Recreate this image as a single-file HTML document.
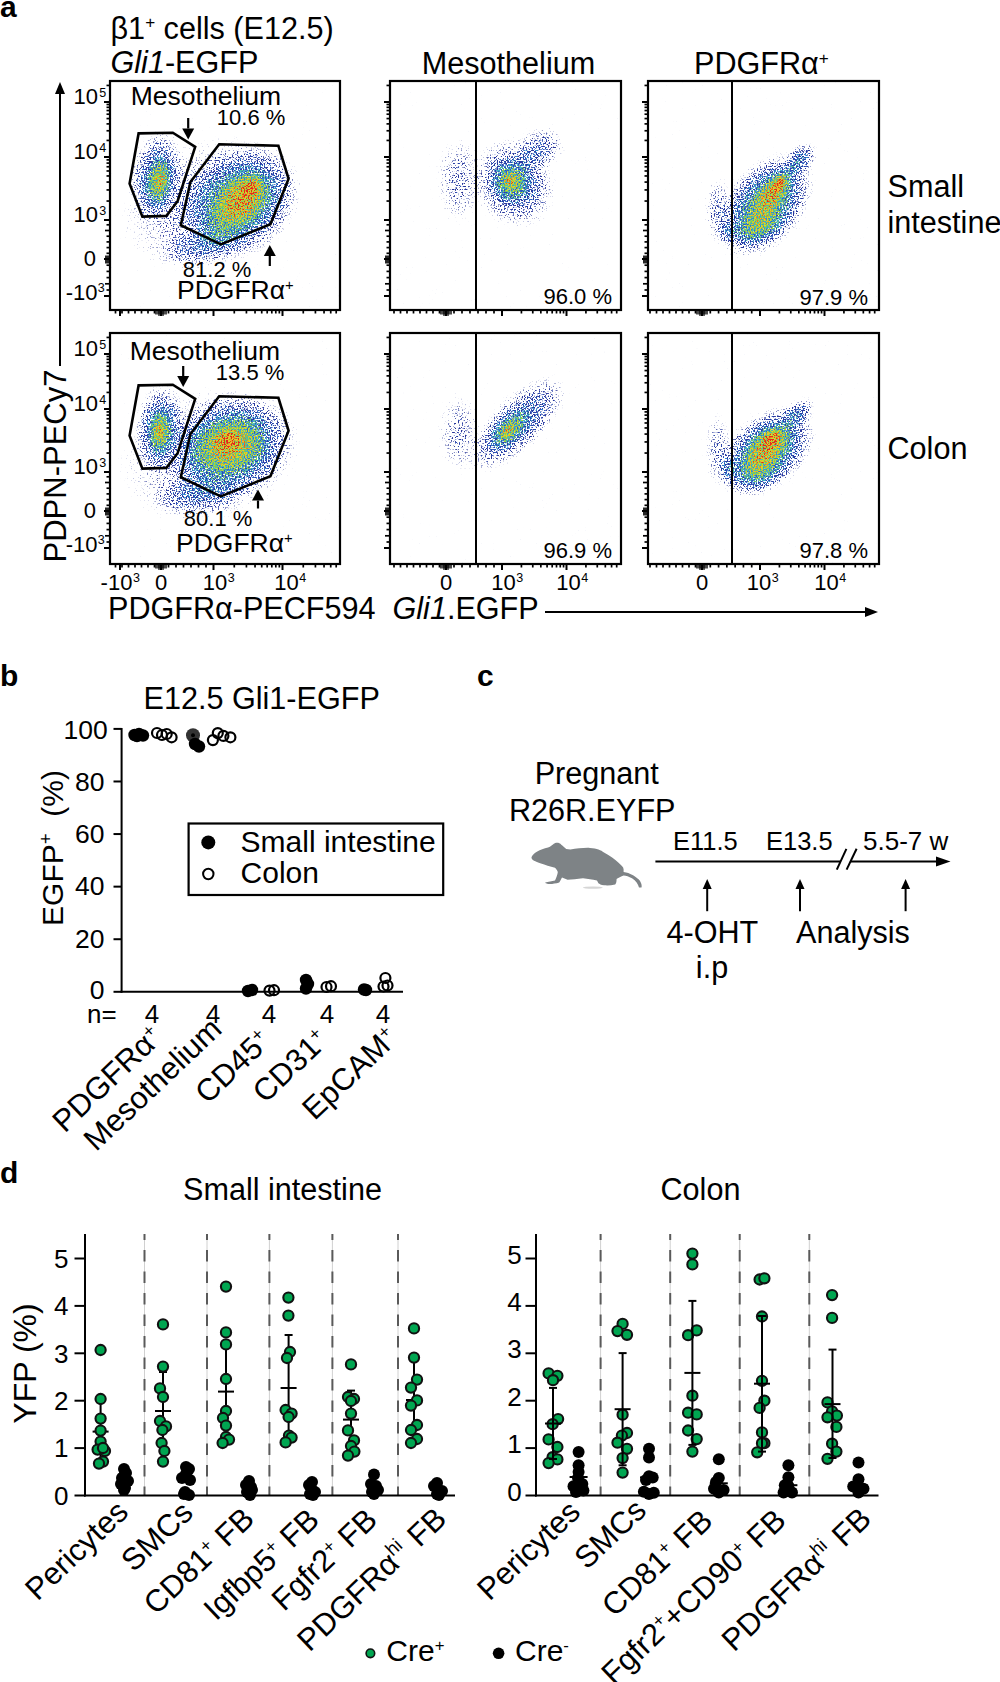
<!DOCTYPE html>
<html><head><meta charset="utf-8"><style>
html,body{margin:0;padding:0;background:#fff;}
svg{display:block;}
text{font-family:"Liberation Sans", sans-serif;}
</style></head><body>
<svg width="1000" height="1682" viewBox="0 0 1000 1682" font-family='"Liberation Sans", sans-serif'>
<rect width="1000" height="1682" fill="#fff"/>
<defs>
<radialGradient id="gg"><stop offset="0" stop-color="#000" stop-opacity="1"/><stop offset="0.25" stop-color="#000" stop-opacity="0.9"/><stop offset="0.5" stop-color="#000" stop-opacity="0.62"/><stop offset="0.7" stop-color="#000" stop-opacity="0.35"/><stop offset="0.85" stop-color="#000" stop-opacity="0.14"/><stop offset="1" stop-color="#000" stop-opacity="0"/></radialGradient>
<filter id="dn" filterUnits="userSpaceOnUse" x="0" y="0" width="1000" height="700" color-interpolation-filters="sRGB">
<feGaussianBlur in="SourceAlpha" stdDeviation="1.1" result="d"/>
<feTurbulence type="fractalNoise" baseFrequency="0.83" numOctaves="1" seed="7" result="t1"/>
<feComponentTransfer in="t1" result="n1"><feFuncA type="table" tableValues="0.000 0.000 0.000 0.001 0.003 0.010 0.031 0.080 0.175 0.320 0.500 0.680 0.825 0.920 0.969 0.990 0.997 0.999 1.000 1.000 1.000"/></feComponentTransfer>
<feTurbulence type="fractalNoise" baseFrequency="0.83" numOctaves="1" seed="19" result="t2"/>
<feComponentTransfer in="t2" result="n2"><feFuncA type="table" tableValues="0.000 0.000 0.000 0.001 0.003 0.010 0.031 0.080 0.175 0.320 0.500 0.680 0.825 0.920 0.969 0.990 0.997 0.999 1.000 1.000 1.000"/></feComponentTransfer>
<feComposite in="d" in2="n1" operator="arithmetic" k1="0" k2="1" k3="0.45" k4="-0.225" result="dj"/>
<feColorMatrix in="dj" type="matrix" values="0 0 0 1 0  0 0 0 1 0  0 0 0 1 0  0 0 0 0 1" result="g"/>
<feComponentTransfer in="g" result="col"><feFuncR type="table" tableValues="0.157 0.158 0.159 0.160 0.161 0.162 0.163 0.164 0.171 0.179 0.188 0.200 0.213 0.234 0.263 0.336 0.438 0.557 0.684 0.793 0.885 0.931 0.948 0.923 0.894"/><feFuncG type="table" tableValues="0.204 0.208 0.213 0.217 0.221 0.226 0.230 0.234 0.273 0.321 0.369 0.455 0.545 0.631 0.712 0.757 0.778 0.803 0.830 0.843 0.843 0.752 0.600 0.382 0.157"/><feFuncB type="table" tableValues="0.588 0.596 0.605 0.613 0.621 0.629 0.637 0.645 0.681 0.723 0.765 0.793 0.819 0.808 0.763 0.623 0.418 0.297 0.216 0.171 0.161 0.150 0.138 0.124 0.110"/></feComponentTransfer>
<feComposite in="d" in2="n2" operator="arithmetic" k1="0" k2="7" k3="-4" k4="0.05" result="m"/>
<feComposite in="col" in2="m" operator="in"/>
</filter>
</defs>
<clipPath id="c1"><rect x="111" y="82" width="228" height="227"/></clipPath>
<g clip-path="url(#c1)"><g transform="scale(1.2)"><g filter="url(#dn)">
<ellipse cx="175.00" cy="170.83" rx="79.17" ry="56.67" transform="rotate(-20 175.00 170.83)" fill="url(#gg)" opacity="0.25"/>
<ellipse cx="130.00" cy="146.67" rx="22.50" ry="40.00" transform="rotate(10 130.00 146.67)" fill="url(#gg)" opacity="0.52"/>
<ellipse cx="133.33" cy="151.67" rx="11.67" ry="25.00" transform="rotate(8 133.33 151.67)" fill="url(#gg)" opacity="0.5"/>
<ellipse cx="134.17" cy="152.50" rx="4.17" ry="8.33" transform="rotate(0 134.17 152.50)" fill="url(#gg)" opacity="0.25"/>
<ellipse cx="170.83" cy="205.00" rx="41.67" ry="16.67" transform="rotate(-10 170.83 205.00)" fill="url(#gg)" opacity="0.28"/>
<ellipse cx="201.67" cy="166.67" rx="53.33" ry="45.00" transform="rotate(-40 201.67 166.67)" fill="url(#gg)" opacity="0.6"/>
<ellipse cx="196.67" cy="173.33" rx="43.33" ry="21.67" transform="rotate(-45 196.67 173.33)" fill="url(#gg)" opacity="0.38"/>
<ellipse cx="203.33" cy="163.33" rx="28.33" ry="21.67" transform="rotate(-45 203.33 163.33)" fill="url(#gg)" opacity="0.36"/>
<ellipse cx="209.17" cy="156.67" rx="11.67" ry="9.17" transform="rotate(-45 209.17 156.67)" fill="url(#gg)" opacity="0.6"/>
<ellipse cx="209.17" cy="156.67" rx="5.00" ry="4.17" transform="rotate(-45 209.17 156.67)" fill="url(#gg)" opacity="0.5"/>
</g></g></g>
<clipPath id="c2"><rect x="111" y="334" width="228" height="229"/></clipPath>
<g clip-path="url(#c2)"><g transform="scale(1.2)"><g filter="url(#dn)">
<ellipse cx="175.00" cy="379.17" rx="79.17" ry="56.67" transform="rotate(-15 175.00 379.17)" fill="url(#gg)" opacity="0.25"/>
<ellipse cx="133.33" cy="356.67" rx="21.67" ry="38.33" transform="rotate(5 133.33 356.67)" fill="url(#gg)" opacity="0.52"/>
<ellipse cx="133.33" cy="360.00" rx="10.83" ry="21.67" transform="rotate(0 133.33 360.00)" fill="url(#gg)" opacity="0.5"/>
<ellipse cx="133.33" cy="360.83" rx="4.17" ry="7.50" transform="rotate(0 133.33 360.83)" fill="url(#gg)" opacity="0.25"/>
<ellipse cx="166.67" cy="412.50" rx="43.33" ry="18.33" transform="rotate(-5 166.67 412.50)" fill="url(#gg)" opacity="0.3"/>
<ellipse cx="193.33" cy="371.67" rx="55.00" ry="45.00" transform="rotate(-20 193.33 371.67)" fill="url(#gg)" opacity="0.6"/>
<ellipse cx="190.83" cy="370.83" rx="40.00" ry="30.00" transform="rotate(-20 190.83 370.83)" fill="url(#gg)" opacity="0.38"/>
<ellipse cx="190.00" cy="367.50" rx="15.00" ry="11.67" transform="rotate(-20 190.00 367.50)" fill="url(#gg)" opacity="0.58"/>
<ellipse cx="190.00" cy="366.67" rx="5.83" ry="5.00" transform="rotate(-20 190.00 366.67)" fill="url(#gg)" opacity="0.5"/>
</g></g></g>
<clipPath id="c3"><rect x="391" y="82" width="229" height="227"/></clipPath>
<g clip-path="url(#c3)"><g transform="scale(1.2)"><g filter="url(#dn)">
<ellipse cx="382.50" cy="150.00" rx="20.00" ry="38.33" transform="rotate(0 382.50 150.00)" fill="url(#gg)" opacity="0.2"/>
<ellipse cx="428.33" cy="152.50" rx="35.00" ry="40.00" transform="rotate(-30 428.33 152.50)" fill="url(#gg)" opacity="0.45"/>
<ellipse cx="448.33" cy="125.00" rx="25.00" ry="18.33" transform="rotate(-30 448.33 125.00)" fill="url(#gg)" opacity="0.3"/>
<ellipse cx="425.83" cy="150.83" rx="20.00" ry="21.67" transform="rotate(0 425.83 150.83)" fill="url(#gg)" opacity="0.45"/>
<ellipse cx="425.00" cy="150.83" rx="7.50" ry="8.33" transform="rotate(0 425.00 150.83)" fill="url(#gg)" opacity="0.4"/>
</g></g></g>
<clipPath id="c4"><rect x="391" y="334" width="229" height="229"/></clipPath>
<g clip-path="url(#c4)"><g transform="scale(1.2)"><g filter="url(#dn)">
<ellipse cx="382.50" cy="360.83" rx="18.33" ry="35.00" transform="rotate(0 382.50 360.83)" fill="url(#gg)" opacity="0.19"/>
<ellipse cx="430.83" cy="353.33" rx="55.00" ry="23.33" transform="rotate(-44 430.83 353.33)" fill="url(#gg)" opacity="0.45"/>
<ellipse cx="423.33" cy="359.17" rx="25.00" ry="14.17" transform="rotate(-44 423.33 359.17)" fill="url(#gg)" opacity="0.45"/>
<ellipse cx="423.33" cy="359.17" rx="9.17" ry="5.83" transform="rotate(-44 423.33 359.17)" fill="url(#gg)" opacity="0.4"/>
</g></g></g>
<clipPath id="c5"><rect x="649" y="82" width="229" height="227"/></clipPath>
<g clip-path="url(#c5)"><g transform="scale(1.2)"><g filter="url(#dn)">
<ellipse cx="598.33" cy="175.00" rx="11.67" ry="30.00" transform="rotate(0 598.33 175.00)" fill="url(#gg)" opacity="0.22"/>
<ellipse cx="606.67" cy="193.33" rx="8.33" ry="11.67" transform="rotate(0 606.67 193.33)" fill="url(#gg)" opacity="0.28"/>
<ellipse cx="637.50" cy="170.83" rx="51.67" ry="33.33" transform="rotate(-50 637.50 170.83)" fill="url(#gg)" opacity="0.72"/>
<ellipse cx="631.67" cy="190.00" rx="26.67" ry="16.67" transform="rotate(-20 631.67 190.00)" fill="url(#gg)" opacity="0.4"/>
<ellipse cx="666.67" cy="133.33" rx="18.33" ry="11.67" transform="rotate(-50 666.67 133.33)" fill="url(#gg)" opacity="0.42"/>
<ellipse cx="645.83" cy="158.33" rx="26.67" ry="12.50" transform="rotate(-55 645.83 158.33)" fill="url(#gg)" opacity="0.55"/>
<ellipse cx="649.17" cy="153.33" rx="10.83" ry="5.83" transform="rotate(-58 649.17 153.33)" fill="url(#gg)" opacity="0.75"/>
<ellipse cx="649.17" cy="153.33" rx="4.17" ry="2.50" transform="rotate(-58 649.17 153.33)" fill="url(#gg)" opacity="0.5"/>
</g></g></g>
<clipPath id="c6"><rect x="649" y="334" width="229" height="229"/></clipPath>
<g clip-path="url(#c6)"><g transform="scale(1.2)"><g filter="url(#dn)">
<ellipse cx="598.33" cy="375.00" rx="11.67" ry="31.67" transform="rotate(0 598.33 375.00)" fill="url(#gg)" opacity="0.2"/>
<ellipse cx="606.67" cy="391.67" rx="8.33" ry="15.00" transform="rotate(0 606.67 391.67)" fill="url(#gg)" opacity="0.25"/>
<ellipse cx="638.33" cy="376.67" rx="48.33" ry="31.67" transform="rotate(-40 638.33 376.67)" fill="url(#gg)" opacity="0.72"/>
<ellipse cx="630.83" cy="391.67" rx="25.00" ry="18.33" transform="rotate(-20 630.83 391.67)" fill="url(#gg)" opacity="0.38"/>
<ellipse cx="664.17" cy="345.00" rx="18.33" ry="10.83" transform="rotate(-40 664.17 345.00)" fill="url(#gg)" opacity="0.4"/>
<ellipse cx="641.67" cy="369.17" rx="26.67" ry="15.83" transform="rotate(-38 641.67 369.17)" fill="url(#gg)" opacity="0.5"/>
<ellipse cx="643.33" cy="365.00" rx="10.83" ry="7.50" transform="rotate(-35 643.33 365.00)" fill="url(#gg)" opacity="0.7"/>
<ellipse cx="643.33" cy="365.00" rx="4.17" ry="3.33" transform="rotate(-35 643.33 365.00)" fill="url(#gg)" opacity="0.45"/>
</g></g></g>
<text x="0.0" y="16.5" font-size="30" font-weight="bold" fill="#000">a</text>
<text x="110.5" y="38.8" font-size="30.6" fill="#000">β1<tspan font-size="17.1" dy="-10.4">+</tspan><tspan dy="10.4"> </tspan>cells (E12.5)</text>
<text x="110.5" y="72.8" font-size="30.6"><tspan font-style="italic">Gli1</tspan>-EGFP</text>
<line x1="60.00" y1="366.00" x2="60.00" y2="94.00" stroke="#000" stroke-width="2"/>
<polygon points="55.0,94.0 65.0,94.0 60.0,82.0" fill="#000"/>
<text x="0.0" y="0.0" font-size="31" text-anchor="middle" fill="#000" transform="translate(66,466) rotate(-90)">PDPN-PECy7</text>
<rect x="110" y="81" width="230" height="229" fill="none" stroke="#000" stroke-width="2.2"/>
<line x1="104.00" y1="102.00" x2="110.00" y2="102.00" stroke="#000" stroke-width="2"/>
<line x1="104.00" y1="157.00" x2="110.00" y2="157.00" stroke="#000" stroke-width="2"/>
<line x1="104.00" y1="220.00" x2="110.00" y2="220.00" stroke="#000" stroke-width="2"/>
<line x1="104.00" y1="259.00" x2="110.00" y2="259.00" stroke="#000" stroke-width="2"/>
<line x1="104.00" y1="296.00" x2="110.00" y2="296.00" stroke="#000" stroke-width="2"/>
<line x1="106.50" y1="140.44" x2="110.00" y2="140.44" stroke="#000" stroke-width="1.7"/>
<line x1="106.50" y1="201.04" x2="110.00" y2="201.04" stroke="#000" stroke-width="1.7"/>
<line x1="106.50" y1="130.76" x2="110.00" y2="130.76" stroke="#000" stroke-width="1.7"/>
<line x1="106.50" y1="189.94" x2="110.00" y2="189.94" stroke="#000" stroke-width="1.7"/>
<line x1="106.50" y1="123.89" x2="110.00" y2="123.89" stroke="#000" stroke-width="1.7"/>
<line x1="106.50" y1="182.07" x2="110.00" y2="182.07" stroke="#000" stroke-width="1.7"/>
<line x1="106.50" y1="118.56" x2="110.00" y2="118.56" stroke="#000" stroke-width="1.7"/>
<line x1="106.50" y1="175.96" x2="110.00" y2="175.96" stroke="#000" stroke-width="1.7"/>
<line x1="106.50" y1="114.20" x2="110.00" y2="114.20" stroke="#000" stroke-width="1.7"/>
<line x1="106.50" y1="170.98" x2="110.00" y2="170.98" stroke="#000" stroke-width="1.7"/>
<line x1="106.50" y1="110.52" x2="110.00" y2="110.52" stroke="#000" stroke-width="1.7"/>
<line x1="106.50" y1="166.76" x2="110.00" y2="166.76" stroke="#000" stroke-width="1.7"/>
<line x1="106.50" y1="107.33" x2="110.00" y2="107.33" stroke="#000" stroke-width="1.7"/>
<line x1="106.50" y1="163.11" x2="110.00" y2="163.11" stroke="#000" stroke-width="1.7"/>
<line x1="106.50" y1="104.52" x2="110.00" y2="104.52" stroke="#000" stroke-width="1.7"/>
<line x1="106.50" y1="159.88" x2="110.00" y2="159.88" stroke="#000" stroke-width="1.7"/>
<line x1="106.50" y1="85.44" x2="110.00" y2="85.44" stroke="#000" stroke-width="1.7"/>
<line x1="106.50" y1="253.30" x2="110.00" y2="253.30" stroke="#000" stroke-width="1.7"/>
<line x1="106.50" y1="247.60" x2="110.00" y2="247.60" stroke="#000" stroke-width="1.7"/>
<line x1="106.50" y1="241.90" x2="110.00" y2="241.90" stroke="#000" stroke-width="1.7"/>
<line x1="106.50" y1="236.20" x2="110.00" y2="236.20" stroke="#000" stroke-width="1.7"/>
<line x1="105.00" y1="230.50" x2="110.00" y2="230.50" stroke="#000" stroke-width="1.7"/>
<line x1="106.50" y1="224.80" x2="110.00" y2="224.80" stroke="#000" stroke-width="1.7"/>
<line x1="106.50" y1="265.20" x2="110.00" y2="265.20" stroke="#000" stroke-width="1.7"/>
<line x1="106.50" y1="271.40" x2="110.00" y2="271.40" stroke="#000" stroke-width="1.7"/>
<line x1="106.50" y1="277.60" x2="110.00" y2="277.60" stroke="#000" stroke-width="1.7"/>
<line x1="105.00" y1="283.80" x2="110.00" y2="283.80" stroke="#000" stroke-width="1.7"/>
<line x1="106.50" y1="290.00" x2="110.00" y2="290.00" stroke="#000" stroke-width="1.7"/>
<rect x="105" y="255.5" width="5" height="8" fill="#000" opacity=".85"/>
<line x1="161.00" y1="310.00" x2="161.00" y2="316.00" stroke="#000" stroke-width="2"/>
<line x1="213.50" y1="310.00" x2="213.50" y2="316.00" stroke="#000" stroke-width="2"/>
<line x1="282.50" y1="310.00" x2="282.50" y2="316.00" stroke="#000" stroke-width="2"/>
<line x1="120.00" y1="310.00" x2="120.00" y2="316.00" stroke="#000" stroke-width="2"/>
<line x1="234.27" y1="310.00" x2="234.27" y2="313.50" stroke="#000" stroke-width="1.7"/>
<line x1="303.27" y1="310.00" x2="303.27" y2="313.50" stroke="#000" stroke-width="1.7"/>
<line x1="246.42" y1="310.00" x2="246.42" y2="313.50" stroke="#000" stroke-width="1.7"/>
<line x1="315.42" y1="310.00" x2="315.42" y2="313.50" stroke="#000" stroke-width="1.7"/>
<line x1="255.04" y1="310.00" x2="255.04" y2="313.50" stroke="#000" stroke-width="1.7"/>
<line x1="324.04" y1="310.00" x2="324.04" y2="313.50" stroke="#000" stroke-width="1.7"/>
<line x1="261.73" y1="310.00" x2="261.73" y2="313.50" stroke="#000" stroke-width="1.7"/>
<line x1="330.73" y1="310.00" x2="330.73" y2="313.50" stroke="#000" stroke-width="1.7"/>
<line x1="267.19" y1="310.00" x2="267.19" y2="313.50" stroke="#000" stroke-width="1.7"/>
<line x1="336.19" y1="310.00" x2="336.19" y2="313.50" stroke="#000" stroke-width="1.7"/>
<line x1="271.81" y1="310.00" x2="271.81" y2="313.50" stroke="#000" stroke-width="1.7"/>
<line x1="275.81" y1="310.00" x2="275.81" y2="313.50" stroke="#000" stroke-width="1.7"/>
<line x1="279.34" y1="310.00" x2="279.34" y2="313.50" stroke="#000" stroke-width="1.7"/>
<line x1="168.50" y1="310.00" x2="168.50" y2="313.50" stroke="#000" stroke-width="1.7"/>
<line x1="176.00" y1="310.00" x2="176.00" y2="313.50" stroke="#000" stroke-width="1.7"/>
<line x1="183.50" y1="310.00" x2="183.50" y2="313.50" stroke="#000" stroke-width="1.7"/>
<line x1="191.00" y1="310.00" x2="191.00" y2="313.50" stroke="#000" stroke-width="1.7"/>
<line x1="198.50" y1="310.00" x2="198.50" y2="313.50" stroke="#000" stroke-width="1.7"/>
<line x1="206.00" y1="310.00" x2="206.00" y2="313.50" stroke="#000" stroke-width="1.7"/>
<line x1="154.50" y1="310.00" x2="154.50" y2="313.50" stroke="#000" stroke-width="1.7"/>
<line x1="148.00" y1="310.00" x2="148.00" y2="313.50" stroke="#000" stroke-width="1.7"/>
<line x1="141.50" y1="310.00" x2="141.50" y2="313.50" stroke="#000" stroke-width="1.7"/>
<line x1="135.00" y1="310.00" x2="135.00" y2="313.50" stroke="#000" stroke-width="1.7"/>
<line x1="128.50" y1="310.00" x2="128.50" y2="313.50" stroke="#000" stroke-width="1.7"/>
<line x1="122.00" y1="310.00" x2="122.00" y2="313.50" stroke="#000" stroke-width="1.7"/>
<line x1="115.50" y1="310.00" x2="115.50" y2="313.50" stroke="#000" stroke-width="1.7"/>
<rect x="155" y="310" width="12" height="4.5" fill="#000" opacity=".7"/>
<rect x="158" y="310" width="6" height="6" fill="#000" opacity=".6"/>
<rect x="390" y="81" width="231" height="229" fill="none" stroke="#000" stroke-width="2.2"/>
<line x1="384.00" y1="102.00" x2="390.00" y2="102.00" stroke="#000" stroke-width="2"/>
<line x1="384.00" y1="157.00" x2="390.00" y2="157.00" stroke="#000" stroke-width="2"/>
<line x1="384.00" y1="220.00" x2="390.00" y2="220.00" stroke="#000" stroke-width="2"/>
<line x1="384.00" y1="259.00" x2="390.00" y2="259.00" stroke="#000" stroke-width="2"/>
<line x1="384.00" y1="296.00" x2="390.00" y2="296.00" stroke="#000" stroke-width="2"/>
<line x1="386.50" y1="140.44" x2="390.00" y2="140.44" stroke="#000" stroke-width="1.7"/>
<line x1="386.50" y1="201.04" x2="390.00" y2="201.04" stroke="#000" stroke-width="1.7"/>
<line x1="386.50" y1="130.76" x2="390.00" y2="130.76" stroke="#000" stroke-width="1.7"/>
<line x1="386.50" y1="189.94" x2="390.00" y2="189.94" stroke="#000" stroke-width="1.7"/>
<line x1="386.50" y1="123.89" x2="390.00" y2="123.89" stroke="#000" stroke-width="1.7"/>
<line x1="386.50" y1="182.07" x2="390.00" y2="182.07" stroke="#000" stroke-width="1.7"/>
<line x1="386.50" y1="118.56" x2="390.00" y2="118.56" stroke="#000" stroke-width="1.7"/>
<line x1="386.50" y1="175.96" x2="390.00" y2="175.96" stroke="#000" stroke-width="1.7"/>
<line x1="386.50" y1="114.20" x2="390.00" y2="114.20" stroke="#000" stroke-width="1.7"/>
<line x1="386.50" y1="170.98" x2="390.00" y2="170.98" stroke="#000" stroke-width="1.7"/>
<line x1="386.50" y1="110.52" x2="390.00" y2="110.52" stroke="#000" stroke-width="1.7"/>
<line x1="386.50" y1="166.76" x2="390.00" y2="166.76" stroke="#000" stroke-width="1.7"/>
<line x1="386.50" y1="107.33" x2="390.00" y2="107.33" stroke="#000" stroke-width="1.7"/>
<line x1="386.50" y1="163.11" x2="390.00" y2="163.11" stroke="#000" stroke-width="1.7"/>
<line x1="386.50" y1="104.52" x2="390.00" y2="104.52" stroke="#000" stroke-width="1.7"/>
<line x1="386.50" y1="159.88" x2="390.00" y2="159.88" stroke="#000" stroke-width="1.7"/>
<line x1="386.50" y1="85.44" x2="390.00" y2="85.44" stroke="#000" stroke-width="1.7"/>
<line x1="386.50" y1="253.30" x2="390.00" y2="253.30" stroke="#000" stroke-width="1.7"/>
<line x1="386.50" y1="247.60" x2="390.00" y2="247.60" stroke="#000" stroke-width="1.7"/>
<line x1="386.50" y1="241.90" x2="390.00" y2="241.90" stroke="#000" stroke-width="1.7"/>
<line x1="386.50" y1="236.20" x2="390.00" y2="236.20" stroke="#000" stroke-width="1.7"/>
<line x1="385.00" y1="230.50" x2="390.00" y2="230.50" stroke="#000" stroke-width="1.7"/>
<line x1="386.50" y1="224.80" x2="390.00" y2="224.80" stroke="#000" stroke-width="1.7"/>
<line x1="386.50" y1="265.20" x2="390.00" y2="265.20" stroke="#000" stroke-width="1.7"/>
<line x1="386.50" y1="271.40" x2="390.00" y2="271.40" stroke="#000" stroke-width="1.7"/>
<line x1="386.50" y1="277.60" x2="390.00" y2="277.60" stroke="#000" stroke-width="1.7"/>
<line x1="385.00" y1="283.80" x2="390.00" y2="283.80" stroke="#000" stroke-width="1.7"/>
<line x1="386.50" y1="290.00" x2="390.00" y2="290.00" stroke="#000" stroke-width="1.7"/>
<rect x="385" y="255.5" width="5" height="8" fill="#000" opacity=".85"/>
<line x1="446.00" y1="310.00" x2="446.00" y2="316.00" stroke="#000" stroke-width="2"/>
<line x1="502.00" y1="310.00" x2="502.00" y2="316.00" stroke="#000" stroke-width="2"/>
<line x1="566.50" y1="310.00" x2="566.50" y2="316.00" stroke="#000" stroke-width="2"/>
<line x1="521.42" y1="310.00" x2="521.42" y2="313.50" stroke="#000" stroke-width="1.7"/>
<line x1="585.92" y1="310.00" x2="585.92" y2="313.50" stroke="#000" stroke-width="1.7"/>
<line x1="532.77" y1="310.00" x2="532.77" y2="313.50" stroke="#000" stroke-width="1.7"/>
<line x1="597.27" y1="310.00" x2="597.27" y2="313.50" stroke="#000" stroke-width="1.7"/>
<line x1="540.83" y1="310.00" x2="540.83" y2="313.50" stroke="#000" stroke-width="1.7"/>
<line x1="605.33" y1="310.00" x2="605.33" y2="313.50" stroke="#000" stroke-width="1.7"/>
<line x1="547.08" y1="310.00" x2="547.08" y2="313.50" stroke="#000" stroke-width="1.7"/>
<line x1="611.58" y1="310.00" x2="611.58" y2="313.50" stroke="#000" stroke-width="1.7"/>
<line x1="552.19" y1="310.00" x2="552.19" y2="313.50" stroke="#000" stroke-width="1.7"/>
<line x1="616.69" y1="310.00" x2="616.69" y2="313.50" stroke="#000" stroke-width="1.7"/>
<line x1="556.51" y1="310.00" x2="556.51" y2="313.50" stroke="#000" stroke-width="1.7"/>
<line x1="560.25" y1="310.00" x2="560.25" y2="313.50" stroke="#000" stroke-width="1.7"/>
<line x1="563.55" y1="310.00" x2="563.55" y2="313.50" stroke="#000" stroke-width="1.7"/>
<line x1="454.00" y1="310.00" x2="454.00" y2="313.50" stroke="#000" stroke-width="1.7"/>
<line x1="462.00" y1="310.00" x2="462.00" y2="313.50" stroke="#000" stroke-width="1.7"/>
<line x1="470.00" y1="310.00" x2="470.00" y2="313.50" stroke="#000" stroke-width="1.7"/>
<line x1="478.00" y1="310.00" x2="478.00" y2="313.50" stroke="#000" stroke-width="1.7"/>
<line x1="486.00" y1="310.00" x2="486.00" y2="313.50" stroke="#000" stroke-width="1.7"/>
<line x1="494.00" y1="310.00" x2="494.00" y2="313.50" stroke="#000" stroke-width="1.7"/>
<line x1="439.50" y1="310.00" x2="439.50" y2="313.50" stroke="#000" stroke-width="1.7"/>
<line x1="433.00" y1="310.00" x2="433.00" y2="313.50" stroke="#000" stroke-width="1.7"/>
<line x1="426.50" y1="310.00" x2="426.50" y2="313.50" stroke="#000" stroke-width="1.7"/>
<line x1="420.00" y1="310.00" x2="420.00" y2="313.50" stroke="#000" stroke-width="1.7"/>
<line x1="413.50" y1="310.00" x2="413.50" y2="313.50" stroke="#000" stroke-width="1.7"/>
<line x1="407.00" y1="310.00" x2="407.00" y2="313.50" stroke="#000" stroke-width="1.7"/>
<line x1="400.50" y1="310.00" x2="400.50" y2="313.50" stroke="#000" stroke-width="1.7"/>
<line x1="394.00" y1="310.00" x2="394.00" y2="313.50" stroke="#000" stroke-width="1.7"/>
<rect x="440" y="310" width="12" height="4.5" fill="#000" opacity=".7"/>
<rect x="443" y="310" width="6" height="6" fill="#000" opacity=".6"/>
<line x1="476.00" y1="81.00" x2="476.00" y2="310.00" stroke="#000" stroke-width="2"/>
<rect x="648" y="81" width="231" height="229" fill="none" stroke="#000" stroke-width="2.2"/>
<line x1="642.00" y1="102.00" x2="648.00" y2="102.00" stroke="#000" stroke-width="2"/>
<line x1="642.00" y1="157.00" x2="648.00" y2="157.00" stroke="#000" stroke-width="2"/>
<line x1="642.00" y1="220.00" x2="648.00" y2="220.00" stroke="#000" stroke-width="2"/>
<line x1="642.00" y1="259.00" x2="648.00" y2="259.00" stroke="#000" stroke-width="2"/>
<line x1="642.00" y1="296.00" x2="648.00" y2="296.00" stroke="#000" stroke-width="2"/>
<line x1="644.50" y1="140.44" x2="648.00" y2="140.44" stroke="#000" stroke-width="1.7"/>
<line x1="644.50" y1="201.04" x2="648.00" y2="201.04" stroke="#000" stroke-width="1.7"/>
<line x1="644.50" y1="130.76" x2="648.00" y2="130.76" stroke="#000" stroke-width="1.7"/>
<line x1="644.50" y1="189.94" x2="648.00" y2="189.94" stroke="#000" stroke-width="1.7"/>
<line x1="644.50" y1="123.89" x2="648.00" y2="123.89" stroke="#000" stroke-width="1.7"/>
<line x1="644.50" y1="182.07" x2="648.00" y2="182.07" stroke="#000" stroke-width="1.7"/>
<line x1="644.50" y1="118.56" x2="648.00" y2="118.56" stroke="#000" stroke-width="1.7"/>
<line x1="644.50" y1="175.96" x2="648.00" y2="175.96" stroke="#000" stroke-width="1.7"/>
<line x1="644.50" y1="114.20" x2="648.00" y2="114.20" stroke="#000" stroke-width="1.7"/>
<line x1="644.50" y1="170.98" x2="648.00" y2="170.98" stroke="#000" stroke-width="1.7"/>
<line x1="644.50" y1="110.52" x2="648.00" y2="110.52" stroke="#000" stroke-width="1.7"/>
<line x1="644.50" y1="166.76" x2="648.00" y2="166.76" stroke="#000" stroke-width="1.7"/>
<line x1="644.50" y1="107.33" x2="648.00" y2="107.33" stroke="#000" stroke-width="1.7"/>
<line x1="644.50" y1="163.11" x2="648.00" y2="163.11" stroke="#000" stroke-width="1.7"/>
<line x1="644.50" y1="104.52" x2="648.00" y2="104.52" stroke="#000" stroke-width="1.7"/>
<line x1="644.50" y1="159.88" x2="648.00" y2="159.88" stroke="#000" stroke-width="1.7"/>
<line x1="644.50" y1="85.44" x2="648.00" y2="85.44" stroke="#000" stroke-width="1.7"/>
<line x1="644.50" y1="253.30" x2="648.00" y2="253.30" stroke="#000" stroke-width="1.7"/>
<line x1="644.50" y1="247.60" x2="648.00" y2="247.60" stroke="#000" stroke-width="1.7"/>
<line x1="644.50" y1="241.90" x2="648.00" y2="241.90" stroke="#000" stroke-width="1.7"/>
<line x1="644.50" y1="236.20" x2="648.00" y2="236.20" stroke="#000" stroke-width="1.7"/>
<line x1="643.00" y1="230.50" x2="648.00" y2="230.50" stroke="#000" stroke-width="1.7"/>
<line x1="644.50" y1="224.80" x2="648.00" y2="224.80" stroke="#000" stroke-width="1.7"/>
<line x1="644.50" y1="265.20" x2="648.00" y2="265.20" stroke="#000" stroke-width="1.7"/>
<line x1="644.50" y1="271.40" x2="648.00" y2="271.40" stroke="#000" stroke-width="1.7"/>
<line x1="644.50" y1="277.60" x2="648.00" y2="277.60" stroke="#000" stroke-width="1.7"/>
<line x1="643.00" y1="283.80" x2="648.00" y2="283.80" stroke="#000" stroke-width="1.7"/>
<line x1="644.50" y1="290.00" x2="648.00" y2="290.00" stroke="#000" stroke-width="1.7"/>
<rect x="643" y="255.5" width="5" height="8" fill="#000" opacity=".85"/>
<line x1="702.00" y1="310.00" x2="702.00" y2="316.00" stroke="#000" stroke-width="2"/>
<line x1="760.00" y1="310.00" x2="760.00" y2="316.00" stroke="#000" stroke-width="2"/>
<line x1="824.50" y1="310.00" x2="824.50" y2="316.00" stroke="#000" stroke-width="2"/>
<line x1="779.42" y1="310.00" x2="779.42" y2="313.50" stroke="#000" stroke-width="1.7"/>
<line x1="843.92" y1="310.00" x2="843.92" y2="313.50" stroke="#000" stroke-width="1.7"/>
<line x1="790.77" y1="310.00" x2="790.77" y2="313.50" stroke="#000" stroke-width="1.7"/>
<line x1="855.27" y1="310.00" x2="855.27" y2="313.50" stroke="#000" stroke-width="1.7"/>
<line x1="798.83" y1="310.00" x2="798.83" y2="313.50" stroke="#000" stroke-width="1.7"/>
<line x1="863.33" y1="310.00" x2="863.33" y2="313.50" stroke="#000" stroke-width="1.7"/>
<line x1="805.08" y1="310.00" x2="805.08" y2="313.50" stroke="#000" stroke-width="1.7"/>
<line x1="869.58" y1="310.00" x2="869.58" y2="313.50" stroke="#000" stroke-width="1.7"/>
<line x1="810.19" y1="310.00" x2="810.19" y2="313.50" stroke="#000" stroke-width="1.7"/>
<line x1="874.69" y1="310.00" x2="874.69" y2="313.50" stroke="#000" stroke-width="1.7"/>
<line x1="814.51" y1="310.00" x2="814.51" y2="313.50" stroke="#000" stroke-width="1.7"/>
<line x1="818.25" y1="310.00" x2="818.25" y2="313.50" stroke="#000" stroke-width="1.7"/>
<line x1="821.55" y1="310.00" x2="821.55" y2="313.50" stroke="#000" stroke-width="1.7"/>
<line x1="710.29" y1="310.00" x2="710.29" y2="313.50" stroke="#000" stroke-width="1.7"/>
<line x1="718.57" y1="310.00" x2="718.57" y2="313.50" stroke="#000" stroke-width="1.7"/>
<line x1="726.86" y1="310.00" x2="726.86" y2="313.50" stroke="#000" stroke-width="1.7"/>
<line x1="735.14" y1="310.00" x2="735.14" y2="313.50" stroke="#000" stroke-width="1.7"/>
<line x1="743.43" y1="310.00" x2="743.43" y2="313.50" stroke="#000" stroke-width="1.7"/>
<line x1="751.71" y1="310.00" x2="751.71" y2="313.50" stroke="#000" stroke-width="1.7"/>
<line x1="695.50" y1="310.00" x2="695.50" y2="313.50" stroke="#000" stroke-width="1.7"/>
<line x1="689.00" y1="310.00" x2="689.00" y2="313.50" stroke="#000" stroke-width="1.7"/>
<line x1="682.50" y1="310.00" x2="682.50" y2="313.50" stroke="#000" stroke-width="1.7"/>
<line x1="676.00" y1="310.00" x2="676.00" y2="313.50" stroke="#000" stroke-width="1.7"/>
<line x1="669.50" y1="310.00" x2="669.50" y2="313.50" stroke="#000" stroke-width="1.7"/>
<line x1="663.00" y1="310.00" x2="663.00" y2="313.50" stroke="#000" stroke-width="1.7"/>
<line x1="656.50" y1="310.00" x2="656.50" y2="313.50" stroke="#000" stroke-width="1.7"/>
<line x1="650.00" y1="310.00" x2="650.00" y2="313.50" stroke="#000" stroke-width="1.7"/>
<rect x="696" y="310" width="12" height="4.5" fill="#000" opacity=".7"/>
<rect x="699" y="310" width="6" height="6" fill="#000" opacity=".6"/>
<line x1="732.00" y1="81.00" x2="732.00" y2="310.00" stroke="#000" stroke-width="2"/>
<text x="98.0" y="104.0" font-size="22" text-anchor="end" fill="#000">10</text>
<text x="99.3" y="96.7" font-size="12.5" fill="#000">5</text>
<text x="98.0" y="159.0" font-size="22" text-anchor="end" fill="#000">10</text>
<text x="99.3" y="151.7" font-size="12.5" fill="#000">4</text>
<text x="98.0" y="222.0" font-size="22" text-anchor="end" fill="#000">10</text>
<text x="99.3" y="214.7" font-size="12.5" fill="#000">3</text>
<text x="96.0" y="266.0" font-size="22" text-anchor="end" fill="#000">0</text>
<text x="97.5" y="300.0" font-size="22" text-anchor="end" fill="#000">-10</text>
<text x="97.8" y="291.5" font-size="12.5" fill="#000">3</text>
<rect x="110" y="333" width="230" height="231" fill="none" stroke="#000" stroke-width="2.2"/>
<line x1="104.00" y1="354.00" x2="110.00" y2="354.00" stroke="#000" stroke-width="2"/>
<line x1="104.00" y1="409.00" x2="110.00" y2="409.00" stroke="#000" stroke-width="2"/>
<line x1="104.00" y1="472.00" x2="110.00" y2="472.00" stroke="#000" stroke-width="2"/>
<line x1="104.00" y1="511.00" x2="110.00" y2="511.00" stroke="#000" stroke-width="2"/>
<line x1="104.00" y1="548.00" x2="110.00" y2="548.00" stroke="#000" stroke-width="2"/>
<line x1="106.50" y1="392.44" x2="110.00" y2="392.44" stroke="#000" stroke-width="1.7"/>
<line x1="106.50" y1="453.04" x2="110.00" y2="453.04" stroke="#000" stroke-width="1.7"/>
<line x1="106.50" y1="382.76" x2="110.00" y2="382.76" stroke="#000" stroke-width="1.7"/>
<line x1="106.50" y1="441.94" x2="110.00" y2="441.94" stroke="#000" stroke-width="1.7"/>
<line x1="106.50" y1="375.89" x2="110.00" y2="375.89" stroke="#000" stroke-width="1.7"/>
<line x1="106.50" y1="434.07" x2="110.00" y2="434.07" stroke="#000" stroke-width="1.7"/>
<line x1="106.50" y1="370.56" x2="110.00" y2="370.56" stroke="#000" stroke-width="1.7"/>
<line x1="106.50" y1="427.96" x2="110.00" y2="427.96" stroke="#000" stroke-width="1.7"/>
<line x1="106.50" y1="366.20" x2="110.00" y2="366.20" stroke="#000" stroke-width="1.7"/>
<line x1="106.50" y1="422.98" x2="110.00" y2="422.98" stroke="#000" stroke-width="1.7"/>
<line x1="106.50" y1="362.52" x2="110.00" y2="362.52" stroke="#000" stroke-width="1.7"/>
<line x1="106.50" y1="418.76" x2="110.00" y2="418.76" stroke="#000" stroke-width="1.7"/>
<line x1="106.50" y1="359.33" x2="110.00" y2="359.33" stroke="#000" stroke-width="1.7"/>
<line x1="106.50" y1="415.11" x2="110.00" y2="415.11" stroke="#000" stroke-width="1.7"/>
<line x1="106.50" y1="356.52" x2="110.00" y2="356.52" stroke="#000" stroke-width="1.7"/>
<line x1="106.50" y1="411.88" x2="110.00" y2="411.88" stroke="#000" stroke-width="1.7"/>
<line x1="106.50" y1="337.44" x2="110.00" y2="337.44" stroke="#000" stroke-width="1.7"/>
<line x1="106.50" y1="505.30" x2="110.00" y2="505.30" stroke="#000" stroke-width="1.7"/>
<line x1="106.50" y1="499.60" x2="110.00" y2="499.60" stroke="#000" stroke-width="1.7"/>
<line x1="106.50" y1="493.90" x2="110.00" y2="493.90" stroke="#000" stroke-width="1.7"/>
<line x1="106.50" y1="488.20" x2="110.00" y2="488.20" stroke="#000" stroke-width="1.7"/>
<line x1="105.00" y1="482.50" x2="110.00" y2="482.50" stroke="#000" stroke-width="1.7"/>
<line x1="106.50" y1="476.80" x2="110.00" y2="476.80" stroke="#000" stroke-width="1.7"/>
<line x1="106.50" y1="517.20" x2="110.00" y2="517.20" stroke="#000" stroke-width="1.7"/>
<line x1="106.50" y1="523.40" x2="110.00" y2="523.40" stroke="#000" stroke-width="1.7"/>
<line x1="106.50" y1="529.60" x2="110.00" y2="529.60" stroke="#000" stroke-width="1.7"/>
<line x1="105.00" y1="535.80" x2="110.00" y2="535.80" stroke="#000" stroke-width="1.7"/>
<line x1="106.50" y1="542.00" x2="110.00" y2="542.00" stroke="#000" stroke-width="1.7"/>
<rect x="105" y="507.5" width="5" height="8" fill="#000" opacity=".85"/>
<line x1="161.00" y1="564.00" x2="161.00" y2="570.00" stroke="#000" stroke-width="2"/>
<line x1="213.50" y1="564.00" x2="213.50" y2="570.00" stroke="#000" stroke-width="2"/>
<line x1="282.50" y1="564.00" x2="282.50" y2="570.00" stroke="#000" stroke-width="2"/>
<line x1="120.00" y1="564.00" x2="120.00" y2="570.00" stroke="#000" stroke-width="2"/>
<line x1="234.27" y1="564.00" x2="234.27" y2="567.50" stroke="#000" stroke-width="1.7"/>
<line x1="303.27" y1="564.00" x2="303.27" y2="567.50" stroke="#000" stroke-width="1.7"/>
<line x1="246.42" y1="564.00" x2="246.42" y2="567.50" stroke="#000" stroke-width="1.7"/>
<line x1="315.42" y1="564.00" x2="315.42" y2="567.50" stroke="#000" stroke-width="1.7"/>
<line x1="255.04" y1="564.00" x2="255.04" y2="567.50" stroke="#000" stroke-width="1.7"/>
<line x1="324.04" y1="564.00" x2="324.04" y2="567.50" stroke="#000" stroke-width="1.7"/>
<line x1="261.73" y1="564.00" x2="261.73" y2="567.50" stroke="#000" stroke-width="1.7"/>
<line x1="330.73" y1="564.00" x2="330.73" y2="567.50" stroke="#000" stroke-width="1.7"/>
<line x1="267.19" y1="564.00" x2="267.19" y2="567.50" stroke="#000" stroke-width="1.7"/>
<line x1="336.19" y1="564.00" x2="336.19" y2="567.50" stroke="#000" stroke-width="1.7"/>
<line x1="271.81" y1="564.00" x2="271.81" y2="567.50" stroke="#000" stroke-width="1.7"/>
<line x1="275.81" y1="564.00" x2="275.81" y2="567.50" stroke="#000" stroke-width="1.7"/>
<line x1="279.34" y1="564.00" x2="279.34" y2="567.50" stroke="#000" stroke-width="1.7"/>
<line x1="168.50" y1="564.00" x2="168.50" y2="567.50" stroke="#000" stroke-width="1.7"/>
<line x1="176.00" y1="564.00" x2="176.00" y2="567.50" stroke="#000" stroke-width="1.7"/>
<line x1="183.50" y1="564.00" x2="183.50" y2="567.50" stroke="#000" stroke-width="1.7"/>
<line x1="191.00" y1="564.00" x2="191.00" y2="567.50" stroke="#000" stroke-width="1.7"/>
<line x1="198.50" y1="564.00" x2="198.50" y2="567.50" stroke="#000" stroke-width="1.7"/>
<line x1="206.00" y1="564.00" x2="206.00" y2="567.50" stroke="#000" stroke-width="1.7"/>
<line x1="154.50" y1="564.00" x2="154.50" y2="567.50" stroke="#000" stroke-width="1.7"/>
<line x1="148.00" y1="564.00" x2="148.00" y2="567.50" stroke="#000" stroke-width="1.7"/>
<line x1="141.50" y1="564.00" x2="141.50" y2="567.50" stroke="#000" stroke-width="1.7"/>
<line x1="135.00" y1="564.00" x2="135.00" y2="567.50" stroke="#000" stroke-width="1.7"/>
<line x1="128.50" y1="564.00" x2="128.50" y2="567.50" stroke="#000" stroke-width="1.7"/>
<line x1="122.00" y1="564.00" x2="122.00" y2="567.50" stroke="#000" stroke-width="1.7"/>
<line x1="115.50" y1="564.00" x2="115.50" y2="567.50" stroke="#000" stroke-width="1.7"/>
<rect x="155" y="564" width="12" height="4.5" fill="#000" opacity=".7"/>
<rect x="158" y="564" width="6" height="6" fill="#000" opacity=".6"/>
<rect x="390" y="333" width="231" height="231" fill="none" stroke="#000" stroke-width="2.2"/>
<line x1="384.00" y1="354.00" x2="390.00" y2="354.00" stroke="#000" stroke-width="2"/>
<line x1="384.00" y1="409.00" x2="390.00" y2="409.00" stroke="#000" stroke-width="2"/>
<line x1="384.00" y1="472.00" x2="390.00" y2="472.00" stroke="#000" stroke-width="2"/>
<line x1="384.00" y1="511.00" x2="390.00" y2="511.00" stroke="#000" stroke-width="2"/>
<line x1="384.00" y1="548.00" x2="390.00" y2="548.00" stroke="#000" stroke-width="2"/>
<line x1="386.50" y1="392.44" x2="390.00" y2="392.44" stroke="#000" stroke-width="1.7"/>
<line x1="386.50" y1="453.04" x2="390.00" y2="453.04" stroke="#000" stroke-width="1.7"/>
<line x1="386.50" y1="382.76" x2="390.00" y2="382.76" stroke="#000" stroke-width="1.7"/>
<line x1="386.50" y1="441.94" x2="390.00" y2="441.94" stroke="#000" stroke-width="1.7"/>
<line x1="386.50" y1="375.89" x2="390.00" y2="375.89" stroke="#000" stroke-width="1.7"/>
<line x1="386.50" y1="434.07" x2="390.00" y2="434.07" stroke="#000" stroke-width="1.7"/>
<line x1="386.50" y1="370.56" x2="390.00" y2="370.56" stroke="#000" stroke-width="1.7"/>
<line x1="386.50" y1="427.96" x2="390.00" y2="427.96" stroke="#000" stroke-width="1.7"/>
<line x1="386.50" y1="366.20" x2="390.00" y2="366.20" stroke="#000" stroke-width="1.7"/>
<line x1="386.50" y1="422.98" x2="390.00" y2="422.98" stroke="#000" stroke-width="1.7"/>
<line x1="386.50" y1="362.52" x2="390.00" y2="362.52" stroke="#000" stroke-width="1.7"/>
<line x1="386.50" y1="418.76" x2="390.00" y2="418.76" stroke="#000" stroke-width="1.7"/>
<line x1="386.50" y1="359.33" x2="390.00" y2="359.33" stroke="#000" stroke-width="1.7"/>
<line x1="386.50" y1="415.11" x2="390.00" y2="415.11" stroke="#000" stroke-width="1.7"/>
<line x1="386.50" y1="356.52" x2="390.00" y2="356.52" stroke="#000" stroke-width="1.7"/>
<line x1="386.50" y1="411.88" x2="390.00" y2="411.88" stroke="#000" stroke-width="1.7"/>
<line x1="386.50" y1="337.44" x2="390.00" y2="337.44" stroke="#000" stroke-width="1.7"/>
<line x1="386.50" y1="505.30" x2="390.00" y2="505.30" stroke="#000" stroke-width="1.7"/>
<line x1="386.50" y1="499.60" x2="390.00" y2="499.60" stroke="#000" stroke-width="1.7"/>
<line x1="386.50" y1="493.90" x2="390.00" y2="493.90" stroke="#000" stroke-width="1.7"/>
<line x1="386.50" y1="488.20" x2="390.00" y2="488.20" stroke="#000" stroke-width="1.7"/>
<line x1="385.00" y1="482.50" x2="390.00" y2="482.50" stroke="#000" stroke-width="1.7"/>
<line x1="386.50" y1="476.80" x2="390.00" y2="476.80" stroke="#000" stroke-width="1.7"/>
<line x1="386.50" y1="517.20" x2="390.00" y2="517.20" stroke="#000" stroke-width="1.7"/>
<line x1="386.50" y1="523.40" x2="390.00" y2="523.40" stroke="#000" stroke-width="1.7"/>
<line x1="386.50" y1="529.60" x2="390.00" y2="529.60" stroke="#000" stroke-width="1.7"/>
<line x1="385.00" y1="535.80" x2="390.00" y2="535.80" stroke="#000" stroke-width="1.7"/>
<line x1="386.50" y1="542.00" x2="390.00" y2="542.00" stroke="#000" stroke-width="1.7"/>
<rect x="385" y="507.5" width="5" height="8" fill="#000" opacity=".85"/>
<line x1="446.00" y1="564.00" x2="446.00" y2="570.00" stroke="#000" stroke-width="2"/>
<line x1="502.00" y1="564.00" x2="502.00" y2="570.00" stroke="#000" stroke-width="2"/>
<line x1="566.50" y1="564.00" x2="566.50" y2="570.00" stroke="#000" stroke-width="2"/>
<line x1="521.42" y1="564.00" x2="521.42" y2="567.50" stroke="#000" stroke-width="1.7"/>
<line x1="585.92" y1="564.00" x2="585.92" y2="567.50" stroke="#000" stroke-width="1.7"/>
<line x1="532.77" y1="564.00" x2="532.77" y2="567.50" stroke="#000" stroke-width="1.7"/>
<line x1="597.27" y1="564.00" x2="597.27" y2="567.50" stroke="#000" stroke-width="1.7"/>
<line x1="540.83" y1="564.00" x2="540.83" y2="567.50" stroke="#000" stroke-width="1.7"/>
<line x1="605.33" y1="564.00" x2="605.33" y2="567.50" stroke="#000" stroke-width="1.7"/>
<line x1="547.08" y1="564.00" x2="547.08" y2="567.50" stroke="#000" stroke-width="1.7"/>
<line x1="611.58" y1="564.00" x2="611.58" y2="567.50" stroke="#000" stroke-width="1.7"/>
<line x1="552.19" y1="564.00" x2="552.19" y2="567.50" stroke="#000" stroke-width="1.7"/>
<line x1="616.69" y1="564.00" x2="616.69" y2="567.50" stroke="#000" stroke-width="1.7"/>
<line x1="556.51" y1="564.00" x2="556.51" y2="567.50" stroke="#000" stroke-width="1.7"/>
<line x1="560.25" y1="564.00" x2="560.25" y2="567.50" stroke="#000" stroke-width="1.7"/>
<line x1="563.55" y1="564.00" x2="563.55" y2="567.50" stroke="#000" stroke-width="1.7"/>
<line x1="454.00" y1="564.00" x2="454.00" y2="567.50" stroke="#000" stroke-width="1.7"/>
<line x1="462.00" y1="564.00" x2="462.00" y2="567.50" stroke="#000" stroke-width="1.7"/>
<line x1="470.00" y1="564.00" x2="470.00" y2="567.50" stroke="#000" stroke-width="1.7"/>
<line x1="478.00" y1="564.00" x2="478.00" y2="567.50" stroke="#000" stroke-width="1.7"/>
<line x1="486.00" y1="564.00" x2="486.00" y2="567.50" stroke="#000" stroke-width="1.7"/>
<line x1="494.00" y1="564.00" x2="494.00" y2="567.50" stroke="#000" stroke-width="1.7"/>
<line x1="439.50" y1="564.00" x2="439.50" y2="567.50" stroke="#000" stroke-width="1.7"/>
<line x1="433.00" y1="564.00" x2="433.00" y2="567.50" stroke="#000" stroke-width="1.7"/>
<line x1="426.50" y1="564.00" x2="426.50" y2="567.50" stroke="#000" stroke-width="1.7"/>
<line x1="420.00" y1="564.00" x2="420.00" y2="567.50" stroke="#000" stroke-width="1.7"/>
<line x1="413.50" y1="564.00" x2="413.50" y2="567.50" stroke="#000" stroke-width="1.7"/>
<line x1="407.00" y1="564.00" x2="407.00" y2="567.50" stroke="#000" stroke-width="1.7"/>
<line x1="400.50" y1="564.00" x2="400.50" y2="567.50" stroke="#000" stroke-width="1.7"/>
<line x1="394.00" y1="564.00" x2="394.00" y2="567.50" stroke="#000" stroke-width="1.7"/>
<rect x="440" y="564" width="12" height="4.5" fill="#000" opacity=".7"/>
<rect x="443" y="564" width="6" height="6" fill="#000" opacity=".6"/>
<line x1="476.00" y1="333.00" x2="476.00" y2="564.00" stroke="#000" stroke-width="2"/>
<rect x="648" y="333" width="231" height="231" fill="none" stroke="#000" stroke-width="2.2"/>
<line x1="642.00" y1="354.00" x2="648.00" y2="354.00" stroke="#000" stroke-width="2"/>
<line x1="642.00" y1="409.00" x2="648.00" y2="409.00" stroke="#000" stroke-width="2"/>
<line x1="642.00" y1="472.00" x2="648.00" y2="472.00" stroke="#000" stroke-width="2"/>
<line x1="642.00" y1="511.00" x2="648.00" y2="511.00" stroke="#000" stroke-width="2"/>
<line x1="642.00" y1="548.00" x2="648.00" y2="548.00" stroke="#000" stroke-width="2"/>
<line x1="644.50" y1="392.44" x2="648.00" y2="392.44" stroke="#000" stroke-width="1.7"/>
<line x1="644.50" y1="453.04" x2="648.00" y2="453.04" stroke="#000" stroke-width="1.7"/>
<line x1="644.50" y1="382.76" x2="648.00" y2="382.76" stroke="#000" stroke-width="1.7"/>
<line x1="644.50" y1="441.94" x2="648.00" y2="441.94" stroke="#000" stroke-width="1.7"/>
<line x1="644.50" y1="375.89" x2="648.00" y2="375.89" stroke="#000" stroke-width="1.7"/>
<line x1="644.50" y1="434.07" x2="648.00" y2="434.07" stroke="#000" stroke-width="1.7"/>
<line x1="644.50" y1="370.56" x2="648.00" y2="370.56" stroke="#000" stroke-width="1.7"/>
<line x1="644.50" y1="427.96" x2="648.00" y2="427.96" stroke="#000" stroke-width="1.7"/>
<line x1="644.50" y1="366.20" x2="648.00" y2="366.20" stroke="#000" stroke-width="1.7"/>
<line x1="644.50" y1="422.98" x2="648.00" y2="422.98" stroke="#000" stroke-width="1.7"/>
<line x1="644.50" y1="362.52" x2="648.00" y2="362.52" stroke="#000" stroke-width="1.7"/>
<line x1="644.50" y1="418.76" x2="648.00" y2="418.76" stroke="#000" stroke-width="1.7"/>
<line x1="644.50" y1="359.33" x2="648.00" y2="359.33" stroke="#000" stroke-width="1.7"/>
<line x1="644.50" y1="415.11" x2="648.00" y2="415.11" stroke="#000" stroke-width="1.7"/>
<line x1="644.50" y1="356.52" x2="648.00" y2="356.52" stroke="#000" stroke-width="1.7"/>
<line x1="644.50" y1="411.88" x2="648.00" y2="411.88" stroke="#000" stroke-width="1.7"/>
<line x1="644.50" y1="337.44" x2="648.00" y2="337.44" stroke="#000" stroke-width="1.7"/>
<line x1="644.50" y1="505.30" x2="648.00" y2="505.30" stroke="#000" stroke-width="1.7"/>
<line x1="644.50" y1="499.60" x2="648.00" y2="499.60" stroke="#000" stroke-width="1.7"/>
<line x1="644.50" y1="493.90" x2="648.00" y2="493.90" stroke="#000" stroke-width="1.7"/>
<line x1="644.50" y1="488.20" x2="648.00" y2="488.20" stroke="#000" stroke-width="1.7"/>
<line x1="643.00" y1="482.50" x2="648.00" y2="482.50" stroke="#000" stroke-width="1.7"/>
<line x1="644.50" y1="476.80" x2="648.00" y2="476.80" stroke="#000" stroke-width="1.7"/>
<line x1="644.50" y1="517.20" x2="648.00" y2="517.20" stroke="#000" stroke-width="1.7"/>
<line x1="644.50" y1="523.40" x2="648.00" y2="523.40" stroke="#000" stroke-width="1.7"/>
<line x1="644.50" y1="529.60" x2="648.00" y2="529.60" stroke="#000" stroke-width="1.7"/>
<line x1="643.00" y1="535.80" x2="648.00" y2="535.80" stroke="#000" stroke-width="1.7"/>
<line x1="644.50" y1="542.00" x2="648.00" y2="542.00" stroke="#000" stroke-width="1.7"/>
<rect x="643" y="507.5" width="5" height="8" fill="#000" opacity=".85"/>
<line x1="702.00" y1="564.00" x2="702.00" y2="570.00" stroke="#000" stroke-width="2"/>
<line x1="760.00" y1="564.00" x2="760.00" y2="570.00" stroke="#000" stroke-width="2"/>
<line x1="824.50" y1="564.00" x2="824.50" y2="570.00" stroke="#000" stroke-width="2"/>
<line x1="779.42" y1="564.00" x2="779.42" y2="567.50" stroke="#000" stroke-width="1.7"/>
<line x1="843.92" y1="564.00" x2="843.92" y2="567.50" stroke="#000" stroke-width="1.7"/>
<line x1="790.77" y1="564.00" x2="790.77" y2="567.50" stroke="#000" stroke-width="1.7"/>
<line x1="855.27" y1="564.00" x2="855.27" y2="567.50" stroke="#000" stroke-width="1.7"/>
<line x1="798.83" y1="564.00" x2="798.83" y2="567.50" stroke="#000" stroke-width="1.7"/>
<line x1="863.33" y1="564.00" x2="863.33" y2="567.50" stroke="#000" stroke-width="1.7"/>
<line x1="805.08" y1="564.00" x2="805.08" y2="567.50" stroke="#000" stroke-width="1.7"/>
<line x1="869.58" y1="564.00" x2="869.58" y2="567.50" stroke="#000" stroke-width="1.7"/>
<line x1="810.19" y1="564.00" x2="810.19" y2="567.50" stroke="#000" stroke-width="1.7"/>
<line x1="874.69" y1="564.00" x2="874.69" y2="567.50" stroke="#000" stroke-width="1.7"/>
<line x1="814.51" y1="564.00" x2="814.51" y2="567.50" stroke="#000" stroke-width="1.7"/>
<line x1="818.25" y1="564.00" x2="818.25" y2="567.50" stroke="#000" stroke-width="1.7"/>
<line x1="821.55" y1="564.00" x2="821.55" y2="567.50" stroke="#000" stroke-width="1.7"/>
<line x1="710.29" y1="564.00" x2="710.29" y2="567.50" stroke="#000" stroke-width="1.7"/>
<line x1="718.57" y1="564.00" x2="718.57" y2="567.50" stroke="#000" stroke-width="1.7"/>
<line x1="726.86" y1="564.00" x2="726.86" y2="567.50" stroke="#000" stroke-width="1.7"/>
<line x1="735.14" y1="564.00" x2="735.14" y2="567.50" stroke="#000" stroke-width="1.7"/>
<line x1="743.43" y1="564.00" x2="743.43" y2="567.50" stroke="#000" stroke-width="1.7"/>
<line x1="751.71" y1="564.00" x2="751.71" y2="567.50" stroke="#000" stroke-width="1.7"/>
<line x1="695.50" y1="564.00" x2="695.50" y2="567.50" stroke="#000" stroke-width="1.7"/>
<line x1="689.00" y1="564.00" x2="689.00" y2="567.50" stroke="#000" stroke-width="1.7"/>
<line x1="682.50" y1="564.00" x2="682.50" y2="567.50" stroke="#000" stroke-width="1.7"/>
<line x1="676.00" y1="564.00" x2="676.00" y2="567.50" stroke="#000" stroke-width="1.7"/>
<line x1="669.50" y1="564.00" x2="669.50" y2="567.50" stroke="#000" stroke-width="1.7"/>
<line x1="663.00" y1="564.00" x2="663.00" y2="567.50" stroke="#000" stroke-width="1.7"/>
<line x1="656.50" y1="564.00" x2="656.50" y2="567.50" stroke="#000" stroke-width="1.7"/>
<line x1="650.00" y1="564.00" x2="650.00" y2="567.50" stroke="#000" stroke-width="1.7"/>
<rect x="696" y="564" width="12" height="4.5" fill="#000" opacity=".7"/>
<rect x="699" y="564" width="6" height="6" fill="#000" opacity=".6"/>
<line x1="732.00" y1="333.00" x2="732.00" y2="564.00" stroke="#000" stroke-width="2"/>
<text x="98.0" y="356.0" font-size="22" text-anchor="end" fill="#000">10</text>
<text x="99.3" y="348.7" font-size="12.5" fill="#000">5</text>
<text x="98.0" y="411.0" font-size="22" text-anchor="end" fill="#000">10</text>
<text x="99.3" y="403.7" font-size="12.5" fill="#000">4</text>
<text x="98.0" y="474.0" font-size="22" text-anchor="end" fill="#000">10</text>
<text x="99.3" y="466.7" font-size="12.5" fill="#000">3</text>
<text x="96.0" y="518.0" font-size="22" text-anchor="end" fill="#000">0</text>
<text x="97.5" y="552.0" font-size="22" text-anchor="end" fill="#000">-10</text>
<text x="97.8" y="543.5" font-size="12.5" fill="#000">3</text>
<text x="116.5" y="590.2" font-size="22" text-anchor="middle" fill="#000">-10</text>
<text x="133.0" y="582.2" font-size="12.5" fill="#000">3</text>
<text x="161.0" y="590.2" font-size="22" text-anchor="middle" fill="#000">0</text>
<text x="215.0" y="590.2" font-size="22" text-anchor="middle" fill="#000">10</text>
<text x="227.8" y="582.2" font-size="12.5" fill="#000">3</text>
<text x="286.5" y="590.2" font-size="22" text-anchor="middle" fill="#000">10</text>
<text x="299.3" y="582.2" font-size="12.5" fill="#000">4</text>
<text x="446.0" y="590.2" font-size="22" text-anchor="middle" fill="#000">0</text>
<text x="503.5" y="590.2" font-size="22" text-anchor="middle" fill="#000">10</text>
<text x="516.3" y="582.2" font-size="12.5" fill="#000">3</text>
<text x="568.5" y="590.2" font-size="22" text-anchor="middle" fill="#000">10</text>
<text x="581.3" y="582.2" font-size="12.5" fill="#000">4</text>
<text x="702.0" y="590.2" font-size="22" text-anchor="middle" fill="#000">0</text>
<text x="759.0" y="590.2" font-size="22" text-anchor="middle" fill="#000">10</text>
<text x="771.8" y="582.2" font-size="12.5" fill="#000">3</text>
<text x="826.5" y="590.2" font-size="22" text-anchor="middle" fill="#000">10</text>
<text x="839.3" y="582.2" font-size="12.5" fill="#000">4</text>
<text x="108.0" y="618.8" font-size="30.6" fill="#000">PDGFRα-PECF594</text>
<text x="392.5" y="618.8" font-size="30.6"><tspan font-style="italic">Gli1</tspan>.EGFP</text>
<line x1="545.00" y1="612.00" x2="865.00" y2="612.00" stroke="#000" stroke-width="2"/>
<polygon points="865.0,607.0 865.0,617.0 878.0,612.0" fill="#000"/>
<text x="508.5" y="74.0" font-size="30.6" text-anchor="middle" fill="#000">Mesothelium</text>
<text x="694.0" y="74.0" font-size="30.6" fill="#000">PDGFRα<tspan font-size="17.1" dy="-10.4">+</tspan></text>
<text x="887.5" y="196.6" font-size="30.6" fill="#000">Small</text>
<text x="887.5" y="233.3" font-size="30.6" fill="#000">intestine</text>
<text x="887.5" y="458.5" font-size="30.6" fill="#000">Colon</text>
<polygon points="138.6,133.4 172.8,132.7 195.2,146.8 177.6,201.2 166.4,215.9 142.4,216.6 129.6,183.6" fill="none" stroke="#000" stroke-width="2.6" stroke-linejoin="miter"/>
<polygon points="219.2,144.2 278.4,145.8 288.6,178.8 270.4,224.2 220.8,244.4 180.8,225.2 190.4,182.0" fill="none" stroke="#000" stroke-width="2.6" stroke-linejoin="miter"/>
<polygon points="138.6,385.4 172.8,384.7 195.2,398.8 177.6,453.2 166.4,467.9 142.4,468.6 129.6,435.6" fill="none" stroke="#000" stroke-width="2.6" stroke-linejoin="miter"/>
<polygon points="219.2,396.2 278.4,397.8 288.6,430.8 270.4,476.2 220.8,496.4 180.8,477.2 190.4,434.0" fill="none" stroke="#000" stroke-width="2.6" stroke-linejoin="miter"/>
<text x="130.8" y="104.8" font-size="26.5" fill="#000">Mesothelium</text>
<text x="216.8" y="124.6" font-size="22" fill="#000">10.6 %</text>
<line x1="188.20" y1="118.00" x2="188.20" y2="128.50" stroke="#000" stroke-width="2.2"/>
<polygon points="182.2,128.5 194.2,128.5 188.2,139.5" fill="#000"/>
<text x="182.8" y="276.6" font-size="22" fill="#000">81.2 %</text>
<text x="177.0" y="299.0" font-size="26.5" fill="#000">PDGFRα<tspan font-size="14.8" dy="-9.0">+</tspan></text>
<line x1="269.80" y1="266.00" x2="269.80" y2="256.00" stroke="#000" stroke-width="2.2"/>
<polygon points="263.8,256.0 275.8,256.0 269.8,245.0" fill="#000"/>
<text x="129.8" y="360.2" font-size="26.5" fill="#000">Mesothelium</text>
<text x="215.8" y="380.2" font-size="22" fill="#000">13.5 %</text>
<line x1="183.20" y1="366.00" x2="183.20" y2="376.00" stroke="#000" stroke-width="2.2"/>
<polygon points="177.2,376.0 189.2,376.0 183.2,387.0" fill="#000"/>
<text x="183.8" y="526.2" font-size="22" fill="#000">80.1 %</text>
<text x="176.0" y="552.2" font-size="26.5" fill="#000">PDGFRα<tspan font-size="14.8" dy="-9.0">+</tspan></text>
<line x1="258.00" y1="508.50" x2="258.00" y2="500.50" stroke="#000" stroke-width="2.2"/>
<polygon points="252.0,500.5 264.0,500.5 258.0,489.5" fill="#000"/>
<text x="612.0" y="304.2" font-size="22" text-anchor="end" fill="#000">96.0 %</text>
<text x="868.0" y="304.7" font-size="22" text-anchor="end" fill="#000">97.9 %</text>
<text x="612.0" y="557.7" font-size="22" text-anchor="end" fill="#000">96.9 %</text>
<text x="868.0" y="558.2" font-size="22" text-anchor="end" fill="#000">97.8 %</text>
<text x="0.0" y="686.0" font-size="30" font-weight="bold" fill="#000">b</text>
<text x="143.5" y="708.8" font-size="30.6" fill="#000">E12.5 Gli1-EGFP</text>
<line x1="121.60" y1="728.00" x2="121.60" y2="992.80" stroke="#000" stroke-width="2"/>
<line x1="120.60" y1="991.80" x2="403.00" y2="991.80" stroke="#000" stroke-width="2"/>
<line x1="113.50" y1="991.80" x2="121.60" y2="991.80" stroke="#000" stroke-width="2"/>
<text x="104.6" y="999.1" font-size="26.5" text-anchor="end" fill="#000">0</text>
<line x1="113.50" y1="939.22" x2="121.60" y2="939.22" stroke="#000" stroke-width="2"/>
<text x="104.6" y="948.1" font-size="26.5" text-anchor="end" fill="#000">20</text>
<line x1="113.50" y1="886.64" x2="121.60" y2="886.64" stroke="#000" stroke-width="2"/>
<text x="104.6" y="895.1" font-size="26.5" text-anchor="end" fill="#000">40</text>
<line x1="113.50" y1="834.06" x2="121.60" y2="834.06" stroke="#000" stroke-width="2"/>
<text x="104.6" y="842.8" font-size="26.5" text-anchor="end" fill="#000">60</text>
<line x1="113.50" y1="781.48" x2="121.60" y2="781.48" stroke="#000" stroke-width="2"/>
<text x="104.6" y="791.4" font-size="26.5" text-anchor="end" fill="#000">80</text>
<line x1="113.50" y1="728.90" x2="121.60" y2="728.90" stroke="#000" stroke-width="2"/>
<text x="107.8" y="739.1" font-size="26.5" text-anchor="end" fill="#000">100</text>
<text font-size="30" transform="translate(63,848) rotate(-90)" text-anchor="middle">EGFP<tspan font-size="18.6" dy="-11.4">+</tspan><tspan dy="11.4" xml:space="preserve">  (%)</tspan></text>
<rect x="188.6" y="823.5" width="254.6" height="71.5" fill="none" stroke="#000" stroke-width="2.2"/>
<circle cx="208.3" cy="842.4" r="7" fill="#000"/>
<circle cx="208.3" cy="874" r="5.2" fill="#fff" stroke="#000" stroke-width="2"/>
<text x="240.6" y="851.8" font-size="30" fill="#000">Small intestine</text>
<text x="240.6" y="883.4" font-size="30" fill="#000">Colon</text>
<circle cx="193" cy="735.2" r="7" fill="#333"/><circle cx="193" cy="735.2" r="2" fill="#000"/>
<circle cx="134.5" cy="735" r="6.2" fill="#000"/>
<circle cx="139" cy="734" r="6.2" fill="#000"/>
<circle cx="143" cy="735.5" r="6.2" fill="#000"/>
<circle cx="137" cy="736" r="6.2" fill="#000"/>
<circle cx="195" cy="744" r="6.2" fill="#000"/>
<circle cx="199" cy="746.5" r="6.2" fill="#000"/>
<circle cx="248" cy="991" r="6.2" fill="#000"/>
<circle cx="252" cy="990" r="6.2" fill="#000"/>
<circle cx="306" cy="980" r="6.2" fill="#000"/>
<circle cx="306" cy="988.5" r="6.2" fill="#000"/>
<circle cx="308" cy="984" r="6.2" fill="#000"/>
<circle cx="364" cy="989.5" r="6.2" fill="#000"/>
<circle cx="366" cy="990" r="6.2" fill="#000"/>
<circle cx="157" cy="733" r="5" fill="none" stroke="#000" stroke-width="2.2"/>
<circle cx="162" cy="735" r="5" fill="none" stroke="#000" stroke-width="2.2"/>
<circle cx="166.7" cy="734" r="5" fill="none" stroke="#000" stroke-width="2.2"/>
<circle cx="171.6" cy="737.3" r="5" fill="none" stroke="#000" stroke-width="2.2"/>
<circle cx="212.9" cy="740.1" r="5" fill="none" stroke="#000" stroke-width="2.2"/>
<circle cx="217.8" cy="733.1" r="5" fill="none" stroke="#000" stroke-width="2.2"/>
<circle cx="223.4" cy="735.9" r="5" fill="none" stroke="#000" stroke-width="2.2"/>
<circle cx="230.4" cy="737.3" r="5" fill="none" stroke="#000" stroke-width="2.2"/>
<circle cx="269.5" cy="990.6" r="5" fill="none" stroke="#000" stroke-width="2.2"/>
<circle cx="274" cy="990.2" r="5" fill="none" stroke="#000" stroke-width="2.2"/>
<circle cx="326.5" cy="987" r="5" fill="none" stroke="#000" stroke-width="2.2"/>
<circle cx="331" cy="986.2" r="5" fill="none" stroke="#000" stroke-width="2.2"/>
<circle cx="385.4" cy="978" r="5" fill="none" stroke="#000" stroke-width="2.2"/>
<circle cx="383.5" cy="986.5" r="5" fill="none" stroke="#000" stroke-width="2.2"/>
<circle cx="387.5" cy="985.5" r="5" fill="none" stroke="#000" stroke-width="2.2"/>
<text x="87.0" y="1023.0" font-size="26" fill="#000">n=</text>
<text x="152.0" y="1023.0" font-size="26" text-anchor="middle" fill="#000">4</text>
<text x="213.0" y="1023.0" font-size="26" text-anchor="middle" fill="#000">4</text>
<text x="269.0" y="1023.0" font-size="26" text-anchor="middle" fill="#000">4</text>
<text x="327.0" y="1023.0" font-size="26" text-anchor="middle" fill="#000">4</text>
<text x="383.0" y="1023.0" font-size="26" text-anchor="middle" fill="#000">4</text>
<text font-size="31" text-anchor="end" transform="translate(164,1039.5) rotate(-43.5)">PDGFRα<tspan font-size="17.9" dy="-10.9">+</tspan></text>
<text font-size="31" text-anchor="end" transform="translate(223.5,1031.3) rotate(-43.5)">Mesothelium</text>
<text font-size="31" text-anchor="end" transform="translate(272.6,1043.2) rotate(-43.5)">CD45<tspan font-size="17.9" dy="-10.9">+</tspan></text>
<text font-size="31" text-anchor="end" transform="translate(330,1042.5) rotate(-43.5)">CD31<tspan font-size="17.9" dy="-10.9">+</tspan></text>
<text font-size="31" text-anchor="end" transform="translate(399.5,1040.5) rotate(-43.5)">EpCAM<tspan font-size="17.9" dy="-10.9">+</tspan></text>
<text x="477.0" y="686.0" font-size="30" font-weight="bold" fill="#000">c</text>
<text x="596.8" y="784.0" font-size="30.6" text-anchor="middle" fill="#000">Pregnant</text>
<text x="592.2" y="821.3" font-size="30.6" text-anchor="middle" fill="#000">R26R.EYFP</text>
<path d="M531.5,857.3 C533,853 540,849.5 548,847.5 C551,846.5 552,845 553,844.5 C555,842.3 559,842 561.3,844.7 C563,846 565,848 566.2,848.9 L570.4,849.6 C577,848.5 584,847.6 590,847.9 C597,848.5 601,850 604,852.4 C610,856 615,859 618,862.2 C621,865 623.6,867 623.6,869.2 L623.6,872 C627,872.5 630,873.5 632,874.8 C636,877 640,880 640.4,881.8 C641.5,884 642,886 641.5,887.4 L639,887.4 C638,884 636,881 632,878.3 C629,876.5 626,875.7 623.6,875.5 C620,877 618,878 616.6,879 C616.5,881 616.5,883 615.2,884.6 C611,885.5 607,885.6 604,885.3 C601,884.8 599.5,884 598.4,883.2 L597,880.4 C592,879.5 588,879 583,878.3 C577,879 572,879.5 567.6,879.7 L562,877.6 C561,879.5 560.5,881 559.2,882.5 C555,883.7 551,884.3 548,883.9 C546,883.5 545,883 545.2,882.5 C548,881.5 552,881 555,880.4 C556.5,877.5 557.5,874.5 557.8,872 C557,870 556,868.8 555,867.8 C550,866.5 545,865 541,863.6 C538,862.5 535.5,861.5 534,860.8 C532.5,860 531.3,858.5 531.5,857.3 Z" fill="#7e8386"/>
<ellipse cx="592.8" cy="887.6" rx="10" ry="1.2" fill="#bbb" opacity=".6"/>
<line x1="655.40" y1="861.60" x2="841.00" y2="861.60" stroke="#000" stroke-width="2"/>
<line x1="851.00" y1="861.60" x2="938.00" y2="861.60" stroke="#000" stroke-width="2"/>
<polygon points="936,856.6 936,866.6 950.5,861.6" fill="#000"/>
<line x1="836.80" y1="869.60" x2="846.40" y2="848.80" stroke="#000" stroke-width="2"/>
<line x1="846.60" y1="869.60" x2="856.60" y2="848.80" stroke="#000" stroke-width="2"/>
<text x="673.0" y="850.4" font-size="25.5" fill="#000">E11.5</text>
<text x="766.0" y="850.4" font-size="25.5" fill="#000">E13.5</text>
<text x="863.0" y="850.4" font-size="26" fill="#000">5.5-7 w</text>
<line x1="707.20" y1="911.20" x2="707.20" y2="889.00" stroke="#000" stroke-width="2"/>
<polygon points="702.7,889.0 711.7,889.0 707.2,879.0" fill="#000"/>
<line x1="800.00" y1="911.20" x2="800.00" y2="889.00" stroke="#000" stroke-width="2"/>
<polygon points="795.5,889.0 804.5,889.0 800.0,879.0" fill="#000"/>
<line x1="905.60" y1="911.20" x2="905.60" y2="889.00" stroke="#000" stroke-width="2"/>
<polygon points="901.1,889.0 910.1,889.0 905.6,879.0" fill="#000"/>
<text x="666.5" y="943.4" font-size="30.6" fill="#000">4-OHT</text>
<text x="712.0" y="978.4" font-size="30.6" text-anchor="middle" fill="#000">i.p</text>
<text x="796.0" y="943.4" font-size="30.6" fill="#000">Analysis</text>
<text x="0.0" y="1182.5" font-size="30" font-weight="bold" fill="#000">d</text>
<text x="183.0" y="1199.6" font-size="30.6" fill="#000">Small intestine</text>
<text x="660.5" y="1199.9" font-size="30.6" fill="#000">Colon</text>
<line x1="144.50" y1="1234.00" x2="144.50" y2="1495.00" stroke="#d0d0d0" stroke-width="1"/>
<line x1="144.50" y1="1234.00" x2="144.50" y2="1495.00" stroke="#5a5a5a" stroke-width="2" stroke-dasharray="11.5 10" stroke-dashoffset="5.5"/>
<line x1="207.00" y1="1234.00" x2="207.00" y2="1495.00" stroke="#d0d0d0" stroke-width="1"/>
<line x1="207.00" y1="1234.00" x2="207.00" y2="1495.00" stroke="#5a5a5a" stroke-width="2" stroke-dasharray="11.5 10" stroke-dashoffset="5.5"/>
<line x1="269.40" y1="1234.00" x2="269.40" y2="1495.00" stroke="#d0d0d0" stroke-width="1"/>
<line x1="269.40" y1="1234.00" x2="269.40" y2="1495.00" stroke="#5a5a5a" stroke-width="2" stroke-dasharray="11.5 10" stroke-dashoffset="5.5"/>
<line x1="332.40" y1="1234.00" x2="332.40" y2="1495.00" stroke="#d0d0d0" stroke-width="1"/>
<line x1="332.40" y1="1234.00" x2="332.40" y2="1495.00" stroke="#5a5a5a" stroke-width="2" stroke-dasharray="11.5 10" stroke-dashoffset="5.5"/>
<line x1="398.00" y1="1234.00" x2="398.00" y2="1495.00" stroke="#d0d0d0" stroke-width="1"/>
<line x1="398.00" y1="1234.00" x2="398.00" y2="1495.00" stroke="#5a5a5a" stroke-width="2" stroke-dasharray="11.5 10" stroke-dashoffset="5.5"/>
<line x1="600.60" y1="1234.00" x2="600.60" y2="1495.00" stroke="#d0d0d0" stroke-width="1"/>
<line x1="600.60" y1="1234.00" x2="600.60" y2="1495.00" stroke="#5a5a5a" stroke-width="2" stroke-dasharray="11.5 10" stroke-dashoffset="5.5"/>
<line x1="670.20" y1="1234.00" x2="670.20" y2="1495.00" stroke="#d0d0d0" stroke-width="1"/>
<line x1="670.20" y1="1234.00" x2="670.20" y2="1495.00" stroke="#5a5a5a" stroke-width="2" stroke-dasharray="11.5 10" stroke-dashoffset="5.5"/>
<line x1="739.70" y1="1234.00" x2="739.70" y2="1495.00" stroke="#d0d0d0" stroke-width="1"/>
<line x1="739.70" y1="1234.00" x2="739.70" y2="1495.00" stroke="#5a5a5a" stroke-width="2" stroke-dasharray="11.5 10" stroke-dashoffset="5.5"/>
<line x1="809.30" y1="1234.00" x2="809.30" y2="1495.00" stroke="#d0d0d0" stroke-width="1"/>
<line x1="809.30" y1="1234.00" x2="809.30" y2="1495.00" stroke="#5a5a5a" stroke-width="2" stroke-dasharray="11.5 10" stroke-dashoffset="5.5"/>
<line x1="85.00" y1="1234.00" x2="85.00" y2="1496.50" stroke="#000" stroke-width="2"/>
<line x1="84.00" y1="1495.50" x2="455.00" y2="1495.50" stroke="#000" stroke-width="2"/>
<line x1="74.50" y1="1495.50" x2="85.00" y2="1495.50" stroke="#000" stroke-width="2"/>
<text x="68.5" y="1504.8" font-size="26" text-anchor="end" fill="#000">0</text>
<line x1="74.50" y1="1448.10" x2="85.00" y2="1448.10" stroke="#000" stroke-width="2"/>
<text x="68.5" y="1457.4" font-size="26" text-anchor="end" fill="#000">1</text>
<line x1="74.50" y1="1400.70" x2="85.00" y2="1400.70" stroke="#000" stroke-width="2"/>
<text x="68.5" y="1410.0" font-size="26" text-anchor="end" fill="#000">2</text>
<line x1="74.50" y1="1353.30" x2="85.00" y2="1353.30" stroke="#000" stroke-width="2"/>
<text x="68.5" y="1362.6" font-size="26" text-anchor="end" fill="#000">3</text>
<line x1="74.50" y1="1305.90" x2="85.00" y2="1305.90" stroke="#000" stroke-width="2"/>
<text x="68.5" y="1315.2" font-size="26" text-anchor="end" fill="#000">4</text>
<line x1="74.50" y1="1258.50" x2="85.00" y2="1258.50" stroke="#000" stroke-width="2"/>
<text x="68.5" y="1267.8" font-size="26" text-anchor="end" fill="#000">5</text>
<line x1="536.00" y1="1234.00" x2="536.00" y2="1496.50" stroke="#000" stroke-width="2"/>
<line x1="535.00" y1="1495.50" x2="878.50" y2="1495.50" stroke="#000" stroke-width="2"/>
<line x1="525.50" y1="1495.50" x2="536.00" y2="1495.50" stroke="#000" stroke-width="2"/>
<text x="521.8" y="1500.5" font-size="26" text-anchor="end" fill="#000">0</text>
<line x1="525.50" y1="1448.10" x2="536.00" y2="1448.10" stroke="#000" stroke-width="2"/>
<text x="521.8" y="1453.1" font-size="26" text-anchor="end" fill="#000">1</text>
<line x1="525.50" y1="1400.70" x2="536.00" y2="1400.70" stroke="#000" stroke-width="2"/>
<text x="521.8" y="1405.7" font-size="26" text-anchor="end" fill="#000">2</text>
<line x1="525.50" y1="1353.30" x2="536.00" y2="1353.30" stroke="#000" stroke-width="2"/>
<text x="521.8" y="1358.3" font-size="26" text-anchor="end" fill="#000">3</text>
<line x1="525.50" y1="1305.90" x2="536.00" y2="1305.90" stroke="#000" stroke-width="2"/>
<text x="521.8" y="1310.9" font-size="26" text-anchor="end" fill="#000">4</text>
<line x1="525.50" y1="1258.50" x2="536.00" y2="1258.50" stroke="#000" stroke-width="2"/>
<text x="521.8" y="1263.5" font-size="26" text-anchor="end" fill="#000">5</text>
<text font-size="32" text-anchor="middle" transform="translate(35.7,1363.5) rotate(-90)">YFP (%)</text>
<line x1="100.60" y1="1401.00" x2="100.60" y2="1462.00" stroke="#000" stroke-width="2"/>
<line x1="92.60" y1="1431.60" x2="108.60" y2="1431.60" stroke="#000" stroke-width="2"/>
<line x1="96.60" y1="1401.00" x2="104.60" y2="1401.00" stroke="#000" stroke-width="2"/>
<line x1="96.60" y1="1462.00" x2="104.60" y2="1462.00" stroke="#000" stroke-width="2"/>
<circle cx="100.6" cy="1350" r="5.1" fill="#00a651" stroke="#111" stroke-width="2.1"/>
<circle cx="100.6" cy="1399" r="5.1" fill="#00a651" stroke="#111" stroke-width="2.1"/>
<circle cx="100.6" cy="1418.6" r="5.1" fill="#00a651" stroke="#111" stroke-width="2.1"/>
<circle cx="100.6" cy="1430.6" r="5.1" fill="#00a651" stroke="#111" stroke-width="2.1"/>
<circle cx="100.6" cy="1441.6" r="5.1" fill="#00a651" stroke="#111" stroke-width="2.1"/>
<circle cx="97.6" cy="1449.6" r="5.1" fill="#00a651" stroke="#111" stroke-width="2.1"/>
<circle cx="105" cy="1451" r="5.1" fill="#00a651" stroke="#111" stroke-width="2.1"/>
<circle cx="103" cy="1448" r="5.1" fill="#00a651" stroke="#111" stroke-width="2.1"/>
<circle cx="103" cy="1461.6" r="5.1" fill="#00a651" stroke="#111" stroke-width="2.1"/>
<circle cx="99" cy="1463.6" r="5.1" fill="#00a651" stroke="#111" stroke-width="2.1"/>
<line x1="163.00" y1="1372.00" x2="163.00" y2="1450.00" stroke="#000" stroke-width="2"/>
<line x1="155.00" y1="1411.00" x2="171.00" y2="1411.00" stroke="#000" stroke-width="2"/>
<line x1="159.00" y1="1372.00" x2="167.00" y2="1372.00" stroke="#000" stroke-width="2"/>
<line x1="159.00" y1="1450.00" x2="167.00" y2="1450.00" stroke="#000" stroke-width="2"/>
<circle cx="163" cy="1324.4" r="5.1" fill="#00a651" stroke="#111" stroke-width="2.1"/>
<circle cx="163" cy="1366.6" r="5.1" fill="#00a651" stroke="#111" stroke-width="2.1"/>
<circle cx="160" cy="1388.4" r="5.1" fill="#00a651" stroke="#111" stroke-width="2.1"/>
<circle cx="163" cy="1397" r="5.1" fill="#00a651" stroke="#111" stroke-width="2.1"/>
<circle cx="160" cy="1421" r="5.1" fill="#00a651" stroke="#111" stroke-width="2.1"/>
<circle cx="166" cy="1426.4" r="5.1" fill="#00a651" stroke="#111" stroke-width="2.1"/>
<circle cx="162.4" cy="1430" r="5.1" fill="#00a651" stroke="#111" stroke-width="2.1"/>
<circle cx="161.6" cy="1443" r="5.1" fill="#00a651" stroke="#111" stroke-width="2.1"/>
<circle cx="164.4" cy="1451" r="5.1" fill="#00a651" stroke="#111" stroke-width="2.1"/>
<circle cx="163" cy="1461.6" r="5.1" fill="#00a651" stroke="#111" stroke-width="2.1"/>
<line x1="226.00" y1="1344.00" x2="226.00" y2="1439.00" stroke="#000" stroke-width="2"/>
<line x1="218.00" y1="1391.60" x2="234.00" y2="1391.60" stroke="#000" stroke-width="2"/>
<line x1="222.00" y1="1344.00" x2="230.00" y2="1344.00" stroke="#000" stroke-width="2"/>
<line x1="222.00" y1="1439.00" x2="230.00" y2="1439.00" stroke="#000" stroke-width="2"/>
<circle cx="226" cy="1286.6" r="5.1" fill="#00a651" stroke="#111" stroke-width="2.1"/>
<circle cx="226" cy="1332.4" r="5.1" fill="#00a651" stroke="#111" stroke-width="2.1"/>
<circle cx="226" cy="1344.4" r="5.1" fill="#00a651" stroke="#111" stroke-width="2.1"/>
<circle cx="226" cy="1379" r="5.1" fill="#00a651" stroke="#111" stroke-width="2.1"/>
<circle cx="226" cy="1411" r="5.1" fill="#00a651" stroke="#111" stroke-width="2.1"/>
<circle cx="223" cy="1418" r="5.1" fill="#00a651" stroke="#111" stroke-width="2.1"/>
<circle cx="226" cy="1425.6" r="5.1" fill="#00a651" stroke="#111" stroke-width="2.1"/>
<circle cx="226" cy="1437" r="5.1" fill="#00a651" stroke="#111" stroke-width="2.1"/>
<circle cx="229" cy="1439.6" r="5.1" fill="#00a651" stroke="#111" stroke-width="2.1"/>
<circle cx="222.6" cy="1443" r="5.1" fill="#00a651" stroke="#111" stroke-width="2.1"/>
<line x1="288.60" y1="1335.00" x2="288.60" y2="1441.00" stroke="#000" stroke-width="2"/>
<line x1="280.60" y1="1388.00" x2="296.60" y2="1388.00" stroke="#000" stroke-width="2"/>
<line x1="284.60" y1="1335.00" x2="292.60" y2="1335.00" stroke="#000" stroke-width="2"/>
<line x1="284.60" y1="1441.00" x2="292.60" y2="1441.00" stroke="#000" stroke-width="2"/>
<circle cx="288.4" cy="1297.6" r="5.1" fill="#00a651" stroke="#111" stroke-width="2.1"/>
<circle cx="288.4" cy="1315.6" r="5.1" fill="#00a651" stroke="#111" stroke-width="2.1"/>
<circle cx="290" cy="1352" r="5.1" fill="#00a651" stroke="#111" stroke-width="2.1"/>
<circle cx="287" cy="1358" r="5.1" fill="#00a651" stroke="#111" stroke-width="2.1"/>
<circle cx="285.6" cy="1410" r="5.1" fill="#00a651" stroke="#111" stroke-width="2.1"/>
<circle cx="291.6" cy="1413.6" r="5.1" fill="#00a651" stroke="#111" stroke-width="2.1"/>
<circle cx="288.6" cy="1417" r="5.1" fill="#00a651" stroke="#111" stroke-width="2.1"/>
<circle cx="289" cy="1435.6" r="5.1" fill="#00a651" stroke="#111" stroke-width="2.1"/>
<circle cx="291.6" cy="1437.6" r="5.1" fill="#00a651" stroke="#111" stroke-width="2.1"/>
<circle cx="285.6" cy="1442.4" r="5.1" fill="#00a651" stroke="#111" stroke-width="2.1"/>
<line x1="351.00" y1="1390.60" x2="351.00" y2="1448.00" stroke="#000" stroke-width="2"/>
<line x1="343.00" y1="1419.60" x2="359.00" y2="1419.60" stroke="#000" stroke-width="2"/>
<line x1="347.00" y1="1390.60" x2="355.00" y2="1390.60" stroke="#000" stroke-width="2"/>
<line x1="347.00" y1="1448.00" x2="355.00" y2="1448.00" stroke="#000" stroke-width="2"/>
<circle cx="351" cy="1364.4" r="5.1" fill="#00a651" stroke="#111" stroke-width="2.1"/>
<circle cx="348" cy="1397" r="5.1" fill="#00a651" stroke="#111" stroke-width="2.1"/>
<circle cx="354" cy="1399" r="5.1" fill="#00a651" stroke="#111" stroke-width="2.1"/>
<circle cx="351" cy="1401" r="5.1" fill="#00a651" stroke="#111" stroke-width="2.1"/>
<circle cx="351" cy="1413.6" r="5.1" fill="#00a651" stroke="#111" stroke-width="2.1"/>
<circle cx="348" cy="1430.4" r="5.1" fill="#00a651" stroke="#111" stroke-width="2.1"/>
<circle cx="354" cy="1440.4" r="5.1" fill="#00a651" stroke="#111" stroke-width="2.1"/>
<circle cx="351" cy="1446" r="5.1" fill="#00a651" stroke="#111" stroke-width="2.1"/>
<circle cx="354.4" cy="1451.6" r="5.1" fill="#00a651" stroke="#111" stroke-width="2.1"/>
<circle cx="348" cy="1455.6" r="5.1" fill="#00a651" stroke="#111" stroke-width="2.1"/>
<line x1="414.00" y1="1357.00" x2="414.00" y2="1443.00" stroke="#000" stroke-width="2"/>
<line x1="406.00" y1="1400.00" x2="422.00" y2="1400.00" stroke="#000" stroke-width="2"/>
<line x1="410.00" y1="1357.00" x2="418.00" y2="1357.00" stroke="#000" stroke-width="2"/>
<line x1="410.00" y1="1443.00" x2="418.00" y2="1443.00" stroke="#000" stroke-width="2"/>
<circle cx="414" cy="1328.4" r="5.1" fill="#00a651" stroke="#111" stroke-width="2.1"/>
<circle cx="414" cy="1357.6" r="5.1" fill="#00a651" stroke="#111" stroke-width="2.1"/>
<circle cx="417" cy="1379.6" r="5.1" fill="#00a651" stroke="#111" stroke-width="2.1"/>
<circle cx="411" cy="1387.6" r="5.1" fill="#00a651" stroke="#111" stroke-width="2.1"/>
<circle cx="417" cy="1400.4" r="5.1" fill="#00a651" stroke="#111" stroke-width="2.1"/>
<circle cx="411" cy="1405.6" r="5.1" fill="#00a651" stroke="#111" stroke-width="2.1"/>
<circle cx="417" cy="1425" r="5.1" fill="#00a651" stroke="#111" stroke-width="2.1"/>
<circle cx="411" cy="1430" r="5.1" fill="#00a651" stroke="#111" stroke-width="2.1"/>
<circle cx="417" cy="1439" r="5.1" fill="#00a651" stroke="#111" stroke-width="2.1"/>
<circle cx="411" cy="1443" r="5.1" fill="#00a651" stroke="#111" stroke-width="2.1"/>
<circle cx="124" cy="1469" r="6" fill="#000"/>
<circle cx="121" cy="1484" r="6" fill="#000"/>
<circle cx="128" cy="1481" r="6" fill="#000"/>
<circle cx="125" cy="1488" r="6" fill="#000"/>
<circle cx="124" cy="1476" r="6" fill="#000"/>
<circle cx="122" cy="1478" r="6" fill="#000"/>
<circle cx="126" cy="1473" r="6" fill="#000"/>
<circle cx="124" cy="1490" r="6" fill="#000"/>
<circle cx="186" cy="1467" r="6" fill="#000"/>
<circle cx="189" cy="1469" r="6" fill="#000"/>
<circle cx="182" cy="1478" r="6" fill="#000"/>
<circle cx="190" cy="1480" r="6" fill="#000"/>
<circle cx="185" cy="1492" r="6" fill="#000"/>
<circle cx="189" cy="1495" r="6" fill="#000"/>
<circle cx="184" cy="1494" r="6" fill="#000"/>
<circle cx="186" cy="1474" r="6" fill="#000"/>
<circle cx="249" cy="1481" r="6" fill="#000"/>
<circle cx="246" cy="1485" r="6" fill="#000"/>
<circle cx="252" cy="1490" r="6" fill="#000"/>
<circle cx="249" cy="1493" r="6" fill="#000"/>
<circle cx="247" cy="1492" r="6" fill="#000"/>
<circle cx="251" cy="1487" r="6" fill="#000"/>
<circle cx="250" cy="1495" r="6" fill="#000"/>
<circle cx="312" cy="1482" r="6" fill="#000"/>
<circle cx="309" cy="1485" r="6" fill="#000"/>
<circle cx="312" cy="1490" r="6" fill="#000"/>
<circle cx="315" cy="1492" r="6" fill="#000"/>
<circle cx="310" cy="1494" r="6" fill="#000"/>
<circle cx="313" cy="1495" r="6" fill="#000"/>
<circle cx="374" cy="1474.4" r="6" fill="#000"/>
<circle cx="371" cy="1484" r="6" fill="#000"/>
<circle cx="378" cy="1490" r="6" fill="#000"/>
<circle cx="374" cy="1494" r="6" fill="#000"/>
<circle cx="372" cy="1492" r="6" fill="#000"/>
<circle cx="376" cy="1486" r="6" fill="#000"/>
<circle cx="437" cy="1483" r="6" fill="#000"/>
<circle cx="434" cy="1486" r="6" fill="#000"/>
<circle cx="442" cy="1491" r="6" fill="#000"/>
<circle cx="437" cy="1494" r="6" fill="#000"/>
<circle cx="439" cy="1495" r="6" fill="#000"/>
<circle cx="548.6" cy="1373.4" r="5.1" fill="#00a651" stroke="#111" stroke-width="2.1"/>
<circle cx="557.4" cy="1375.8" r="5.1" fill="#00a651" stroke="#111" stroke-width="2.1"/>
<circle cx="553" cy="1380.2" r="5.1" fill="#00a651" stroke="#111" stroke-width="2.1"/>
<circle cx="558.1" cy="1419.1" r="5.1" fill="#00a651" stroke="#111" stroke-width="2.1"/>
<circle cx="552.6" cy="1424.2" r="5.1" fill="#00a651" stroke="#111" stroke-width="2.1"/>
<circle cx="548.6" cy="1439.4" r="5.1" fill="#00a651" stroke="#111" stroke-width="2.1"/>
<circle cx="557.4" cy="1447" r="5.1" fill="#00a651" stroke="#111" stroke-width="2.1"/>
<circle cx="552.6" cy="1457.2" r="5.1" fill="#00a651" stroke="#111" stroke-width="2.1"/>
<circle cx="557.4" cy="1459.4" r="5.1" fill="#00a651" stroke="#111" stroke-width="2.1"/>
<circle cx="548.6" cy="1463.1" r="5.1" fill="#00a651" stroke="#111" stroke-width="2.1"/>
<line x1="553.00" y1="1387.90" x2="553.00" y2="1459.00" stroke="#000" stroke-width="2"/>
<line x1="545.00" y1="1423.50" x2="561.00" y2="1423.50" stroke="#000" stroke-width="2"/>
<line x1="549.00" y1="1387.90" x2="557.00" y2="1387.90" stroke="#000" stroke-width="2"/>
<line x1="549.00" y1="1459.00" x2="557.00" y2="1459.00" stroke="#000" stroke-width="2"/>
<circle cx="622.6" cy="1323.9" r="5.1" fill="#00a651" stroke="#111" stroke-width="2.1"/>
<circle cx="617.5" cy="1331.1" r="5.1" fill="#00a651" stroke="#111" stroke-width="2.1"/>
<circle cx="627" cy="1334.8" r="5.1" fill="#00a651" stroke="#111" stroke-width="2.1"/>
<circle cx="622.6" cy="1414.7" r="5.1" fill="#00a651" stroke="#111" stroke-width="2.1"/>
<circle cx="627" cy="1433" r="5.1" fill="#00a651" stroke="#111" stroke-width="2.1"/>
<circle cx="621.9" cy="1435.6" r="5.1" fill="#00a651" stroke="#111" stroke-width="2.1"/>
<circle cx="617.5" cy="1442.7" r="5.1" fill="#00a651" stroke="#111" stroke-width="2.1"/>
<circle cx="627" cy="1448.8" r="5.1" fill="#00a651" stroke="#111" stroke-width="2.1"/>
<circle cx="622.6" cy="1458.1" r="5.1" fill="#00a651" stroke="#111" stroke-width="2.1"/>
<circle cx="622.6" cy="1472.6" r="5.1" fill="#00a651" stroke="#111" stroke-width="2.1"/>
<line x1="622.60" y1="1353.10" x2="622.60" y2="1465.30" stroke="#000" stroke-width="2"/>
<line x1="614.60" y1="1409.20" x2="630.60" y2="1409.20" stroke="#000" stroke-width="2"/>
<line x1="618.60" y1="1353.10" x2="626.60" y2="1353.10" stroke="#000" stroke-width="2"/>
<line x1="618.60" y1="1465.30" x2="626.60" y2="1465.30" stroke="#000" stroke-width="2"/>
<circle cx="692.4" cy="1253.6" r="5.1" fill="#00a651" stroke="#111" stroke-width="2.1"/>
<circle cx="692.4" cy="1264.4" r="5.1" fill="#00a651" stroke="#111" stroke-width="2.1"/>
<circle cx="688.1" cy="1335.2" r="5.1" fill="#00a651" stroke="#111" stroke-width="2.1"/>
<circle cx="696.7" cy="1330.4" r="5.1" fill="#00a651" stroke="#111" stroke-width="2.1"/>
<circle cx="692.4" cy="1395.7" r="5.1" fill="#00a651" stroke="#111" stroke-width="2.1"/>
<circle cx="688.1" cy="1412.7" r="5.1" fill="#00a651" stroke="#111" stroke-width="2.1"/>
<circle cx="696.7" cy="1414.4" r="5.1" fill="#00a651" stroke="#111" stroke-width="2.1"/>
<circle cx="688.1" cy="1430.5" r="5.1" fill="#00a651" stroke="#111" stroke-width="2.1"/>
<circle cx="696.7" cy="1439.1" r="5.1" fill="#00a651" stroke="#111" stroke-width="2.1"/>
<circle cx="692.4" cy="1451.6" r="5.1" fill="#00a651" stroke="#111" stroke-width="2.1"/>
<line x1="692.40" y1="1300.90" x2="692.40" y2="1444.90" stroke="#000" stroke-width="2"/>
<line x1="684.40" y1="1372.90" x2="700.40" y2="1372.90" stroke="#000" stroke-width="2"/>
<line x1="688.40" y1="1300.90" x2="696.40" y2="1300.90" stroke="#000" stroke-width="2"/>
<line x1="688.40" y1="1444.90" x2="696.40" y2="1444.90" stroke="#000" stroke-width="2"/>
<circle cx="759.6" cy="1279.5" r="5.1" fill="#00a651" stroke="#111" stroke-width="2.1"/>
<circle cx="764.4" cy="1278.3" r="5.1" fill="#00a651" stroke="#111" stroke-width="2.1"/>
<circle cx="762" cy="1316.5" r="5.1" fill="#00a651" stroke="#111" stroke-width="2.1"/>
<circle cx="762" cy="1380.8" r="5.1" fill="#00a651" stroke="#111" stroke-width="2.1"/>
<circle cx="764.4" cy="1400.7" r="5.1" fill="#00a651" stroke="#111" stroke-width="2.1"/>
<circle cx="759.6" cy="1407.9" r="5.1" fill="#00a651" stroke="#111" stroke-width="2.1"/>
<circle cx="762" cy="1432.4" r="5.1" fill="#00a651" stroke="#111" stroke-width="2.1"/>
<circle cx="764.4" cy="1443.2" r="5.1" fill="#00a651" stroke="#111" stroke-width="2.1"/>
<circle cx="762" cy="1443.2" r="5.1" fill="#00a651" stroke="#111" stroke-width="2.1"/>
<circle cx="757.2" cy="1452.3" r="5.1" fill="#00a651" stroke="#111" stroke-width="2.1"/>
<line x1="762.00" y1="1316.00" x2="762.00" y2="1451.60" stroke="#000" stroke-width="2"/>
<line x1="754.00" y1="1383.70" x2="770.00" y2="1383.70" stroke="#000" stroke-width="2"/>
<line x1="758.00" y1="1316.00" x2="766.00" y2="1316.00" stroke="#000" stroke-width="2"/>
<line x1="758.00" y1="1451.60" x2="766.00" y2="1451.60" stroke="#000" stroke-width="2"/>
<circle cx="832.1" cy="1295.1" r="5.1" fill="#00a651" stroke="#111" stroke-width="2.1"/>
<circle cx="832.1" cy="1317.9" r="5.1" fill="#00a651" stroke="#111" stroke-width="2.1"/>
<circle cx="827.5" cy="1402.4" r="5.1" fill="#00a651" stroke="#111" stroke-width="2.1"/>
<circle cx="832.1" cy="1411.3" r="5.1" fill="#00a651" stroke="#111" stroke-width="2.1"/>
<circle cx="836.9" cy="1415.6" r="5.1" fill="#00a651" stroke="#111" stroke-width="2.1"/>
<circle cx="827.5" cy="1417.3" r="5.1" fill="#00a651" stroke="#111" stroke-width="2.1"/>
<circle cx="836.4" cy="1426.9" r="5.1" fill="#00a651" stroke="#111" stroke-width="2.1"/>
<circle cx="832.1" cy="1443.7" r="5.1" fill="#00a651" stroke="#111" stroke-width="2.1"/>
<circle cx="836.4" cy="1451.6" r="5.1" fill="#00a651" stroke="#111" stroke-width="2.1"/>
<circle cx="827.5" cy="1458.8" r="5.1" fill="#00a651" stroke="#111" stroke-width="2.1"/>
<line x1="832.50" y1="1349.60" x2="832.50" y2="1458.00" stroke="#000" stroke-width="2"/>
<line x1="824.50" y1="1404.10" x2="840.50" y2="1404.10" stroke="#000" stroke-width="2"/>
<line x1="828.50" y1="1349.60" x2="836.50" y2="1349.60" stroke="#000" stroke-width="2"/>
<line x1="828.50" y1="1458.00" x2="836.50" y2="1458.00" stroke="#000" stroke-width="2"/>
<circle cx="578.6" cy="1452.1" r="6" fill="#000"/>
<circle cx="578.6" cy="1465.3" r="6" fill="#000"/>
<circle cx="578.6" cy="1471.9" r="6" fill="#000"/>
<circle cx="573.5" cy="1486.2" r="6" fill="#000"/>
<circle cx="582.3" cy="1484" r="6" fill="#000"/>
<circle cx="583.4" cy="1490.6" r="6" fill="#000"/>
<circle cx="578" cy="1478" r="6" fill="#000"/>
<circle cx="576" cy="1492" r="6" fill="#000"/>
<line x1="569.60" y1="1477.00" x2="587.60" y2="1477.00" stroke="#000" stroke-width="2"/>
<circle cx="649" cy="1448.8" r="6" fill="#000"/>
<circle cx="649" cy="1457.6" r="6" fill="#000"/>
<circle cx="649" cy="1476.3" r="6" fill="#000"/>
<circle cx="652.7" cy="1477.4" r="6" fill="#000"/>
<circle cx="643.9" cy="1491.7" r="6" fill="#000"/>
<circle cx="653.8" cy="1492.8" r="6" fill="#000"/>
<circle cx="649" cy="1494" r="6" fill="#000"/>
<circle cx="646" cy="1480" r="6" fill="#000"/>
<line x1="640.00" y1="1477.40" x2="658.00" y2="1477.40" stroke="#000" stroke-width="2"/>
<circle cx="718.8" cy="1459.3" r="6" fill="#000"/>
<circle cx="718.8" cy="1478" r="6" fill="#000"/>
<circle cx="714" cy="1488.8" r="6" fill="#000"/>
<circle cx="723.6" cy="1490" r="6" fill="#000"/>
<circle cx="718.8" cy="1492.4" r="6" fill="#000"/>
<circle cx="716" cy="1482" r="6" fill="#000"/>
<line x1="709.80" y1="1483.30" x2="727.80" y2="1483.30" stroke="#000" stroke-width="2"/>
<circle cx="788.4" cy="1465.3" r="6" fill="#000"/>
<circle cx="788.4" cy="1477.3" r="6" fill="#000"/>
<circle cx="784.8" cy="1485.2" r="6" fill="#000"/>
<circle cx="783.6" cy="1492.4" r="6" fill="#000"/>
<circle cx="792" cy="1492.4" r="6" fill="#000"/>
<circle cx="788.4" cy="1485.9" r="6" fill="#000"/>
<line x1="779.40" y1="1485.20" x2="797.40" y2="1485.20" stroke="#000" stroke-width="2"/>
<circle cx="858.5" cy="1462.4" r="6" fill="#000"/>
<circle cx="858.5" cy="1479.2" r="6" fill="#000"/>
<circle cx="853.2" cy="1486.4" r="6" fill="#000"/>
<circle cx="858.5" cy="1492.4" r="6" fill="#000"/>
<circle cx="863.5" cy="1488.8" r="6" fill="#000"/>
<line x1="849.50" y1="1485.00" x2="867.50" y2="1485.00" stroke="#000" stroke-width="2"/>
<text font-size="31" text-anchor="end" transform="translate(130,1514) rotate(-43.5)">Pericytes</text>
<text font-size="31" text-anchor="end" transform="translate(194.7,1514.9) rotate(-43.5)">SMCs</text>
<text font-size="31" text-anchor="end" transform="translate(256,1521) rotate(-43.5)">CD81<tspan font-size="17.9" dy="-10.9">+</tspan><tspan dy="10.9"> </tspan>FB</text>
<text font-size="31" text-anchor="end" transform="translate(321,1522) rotate(-43.5)">Igfbp5<tspan font-size="17.9" dy="-10.9">+</tspan><tspan dy="10.9"> </tspan>FB</text>
<text font-size="31" text-anchor="end" transform="translate(379,1522) rotate(-43.5)">Fgfr2<tspan font-size="17.9" dy="-10.9">+</tspan><tspan dy="10.9"> </tspan>FB</text>
<text font-size="31" text-anchor="end" transform="translate(448.3,1521) rotate(-43.5)">PDGFRα<tspan font-size="19" dy="-12">hi</tspan><tspan dy="12" dx="2"> </tspan>FB</text>
<text font-size="31" text-anchor="end" transform="translate(582,1514) rotate(-43.5)">Pericytes</text>
<text font-size="31" text-anchor="end" transform="translate(648,1512.5) rotate(-43.5)">SMCs</text>
<text font-size="31" text-anchor="end" transform="translate(714.4,1523) rotate(-43.5)">CD81<tspan font-size="17.9" dy="-10.9">+</tspan><tspan dy="10.9"> </tspan>FB</text>
<text font-size="31" text-anchor="end" transform="translate(787,1521.6) rotate(-43.5)">Fgfr2<tspan font-size="17.9" dy="-10.9">+</tspan><tspan dy="12">+CD90</tspan><tspan font-size="17.9" dy="-10.9">+</tspan><tspan dy="10.9"> </tspan>FB</text>
<text font-size="31" text-anchor="end" transform="translate(873,1521) rotate(-43.5)">PDGFRα<tspan font-size="19" dy="-12">hi</tspan><tspan dy="12" dx="2"> </tspan>FB</text>
<circle cx="370.4" cy="1653.3" r="4.3" fill="#00a651" stroke="#111" stroke-width="1.6"/>
<text x="386.3" y="1661.0" font-size="30" fill="#000">Cre<tspan font-size="16.8" dy="-10.2">+</tspan></text>
<circle cx="498.6" cy="1653.3" r="5.8" fill="#000"/>
<text x="515.0" y="1661.0" font-size="30" fill="#000">Cre<tspan font-size="16.8" dy="-10.2">-</tspan></text>
</svg></body></html>
